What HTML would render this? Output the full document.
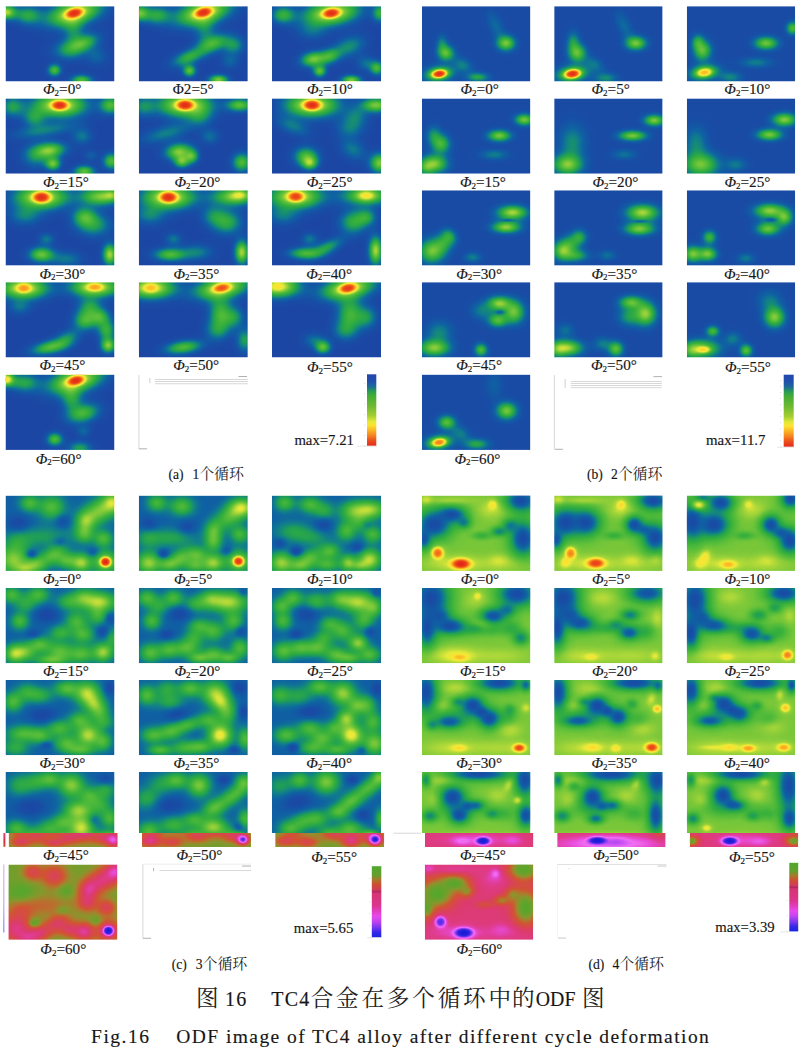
<!DOCTYPE html><html><head><meta charset="utf-8"><title>ODF</title><style>html,body{margin:0;padding:0;background:#fff}body{width:804px;height:1056px;overflow:hidden;position:relative}svg{display:block}text{font-family:"Liberation Serif",serif;fill:#161616;stroke:#161616;stroke-width:.14px}.i{font-style:italic}.cj{font-family:"Liberation Serif","Noto Serif CJK SC",serif;fill:#222;stroke:none}</style></head><body><svg width="804" height="1056" viewBox="0 0 804 1056"><defs><radialGradient id="gw"><stop offset="0.00" stop-color="#fff" stop-opacity="1.000"/><stop offset="0.10" stop-color="#fff" stop-opacity="0.955"/><stop offset="0.20" stop-color="#fff" stop-opacity="0.832"/><stop offset="0.30" stop-color="#fff" stop-opacity="0.661"/><stop offset="0.40" stop-color="#fff" stop-opacity="0.479"/><stop offset="0.50" stop-color="#fff" stop-opacity="0.317"/><stop offset="0.60" stop-color="#fff" stop-opacity="0.191"/><stop offset="0.70" stop-color="#fff" stop-opacity="0.105"/><stop offset="0.80" stop-color="#fff" stop-opacity="0.053"/><stop offset="0.90" stop-color="#fff" stop-opacity="0.024"/><stop offset="1.00" stop-color="#fff" stop-opacity="0.000"/></radialGradient><radialGradient id="gk"><stop offset="0.00" stop-color="#000" stop-opacity="1.000"/><stop offset="0.10" stop-color="#000" stop-opacity="0.955"/><stop offset="0.20" stop-color="#000" stop-opacity="0.832"/><stop offset="0.30" stop-color="#000" stop-opacity="0.661"/><stop offset="0.40" stop-color="#000" stop-opacity="0.479"/><stop offset="0.50" stop-color="#000" stop-opacity="0.317"/><stop offset="0.60" stop-color="#000" stop-opacity="0.191"/><stop offset="0.70" stop-color="#000" stop-opacity="0.105"/><stop offset="0.80" stop-color="#000" stop-opacity="0.053"/><stop offset="0.90" stop-color="#000" stop-opacity="0.024"/><stop offset="1.00" stop-color="#000" stop-opacity="0.000"/></radialGradient><radialGradient id="gk3"><stop offset="0.00" stop-color="#000" stop-opacity="1.000"/><stop offset="0.07" stop-color="#000" stop-opacity="0.998"/><stop offset="0.14" stop-color="#000" stop-opacity="0.987"/><stop offset="0.21" stop-color="#000" stop-opacity="0.956"/><stop offset="0.29" stop-color="#000" stop-opacity="0.898"/><stop offset="0.36" stop-color="#000" stop-opacity="0.811"/><stop offset="0.43" stop-color="#000" stop-opacity="0.696"/><stop offset="0.50" stop-color="#000" stop-opacity="0.563"/><stop offset="0.57" stop-color="#000" stop-opacity="0.424"/><stop offset="0.64" stop-color="#000" stop-opacity="0.295"/><stop offset="0.71" stop-color="#000" stop-opacity="0.187"/><stop offset="0.79" stop-color="#000" stop-opacity="0.107"/><stop offset="0.86" stop-color="#000" stop-opacity="0.055"/><stop offset="0.93" stop-color="#000" stop-opacity="0.025"/><stop offset="1.00" stop-color="#000" stop-opacity="0.000"/></radialGradient><radialGradient id="gs"><stop offset="0.00" stop-color="#fff" stop-opacity="1.000"/><stop offset="0.06" stop-color="#fff" stop-opacity="0.999"/><stop offset="0.12" stop-color="#fff" stop-opacity="0.991"/><stop offset="0.19" stop-color="#fff" stop-opacity="0.970"/><stop offset="0.25" stop-color="#fff" stop-opacity="0.931"/><stop offset="0.31" stop-color="#fff" stop-opacity="0.869"/><stop offset="0.38" stop-color="#fff" stop-opacity="0.785"/><stop offset="0.44" stop-color="#fff" stop-opacity="0.680"/><stop offset="0.50" stop-color="#fff" stop-opacity="0.563"/><stop offset="0.56" stop-color="#fff" stop-opacity="0.441"/><stop offset="0.62" stop-color="#fff" stop-opacity="0.325"/><stop offset="0.69" stop-color="#fff" stop-opacity="0.224"/><stop offset="0.75" stop-color="#fff" stop-opacity="0.144"/><stop offset="0.81" stop-color="#fff" stop-opacity="0.085"/><stop offset="0.88" stop-color="#fff" stop-opacity="0.046"/><stop offset="0.94" stop-color="#fff" stop-opacity="0.023"/><stop offset="1.00" stop-color="#fff" stop-opacity="0.000"/></radialGradient><filter id="jet" x="0" y="0" width="100%" height="100%" color-interpolation-filters="sRGB" filterUnits="objectBoundingBox"><feComponentTransfer><feFuncR type="table" tableValues="0.118 0.112 0.106 0.100 0.094 0.085 0.076 0.068 0.059 0.061 0.063 0.066 0.075 0.090 0.106 0.122 0.144 0.167 0.189 0.212 0.248 0.285 0.322 0.358 0.408 0.471 0.533 0.596 0.667 0.745 0.824 0.902 0.929 0.957 0.984 0.984 0.984 0.984 0.982 0.978 0.973 0.969 0.960 0.951 0.942 0.933 0.924 0.915 0.905 0.896 0.886"/><feFuncG type="table" tableValues="0.267 0.276 0.286 0.296 0.306 0.325 0.345 0.365 0.384 0.418 0.452 0.485 0.519 0.552 0.586 0.620 0.637 0.655 0.673 0.690 0.704 0.718 0.732 0.746 0.763 0.782 0.802 0.822 0.844 0.868 0.893 0.918 0.910 0.902 0.894 0.845 0.796 0.746 0.696 0.644 0.593 0.541 0.486 0.431 0.376 0.322 0.289 0.256 0.223 0.190 0.157"/><feFuncB type="table" tableValues="0.639 0.642 0.645 0.648 0.651 0.648 0.645 0.642 0.639 0.611 0.583 0.555 0.513 0.457 0.401 0.345 0.318 0.290 0.263 0.235 0.234 0.232 0.230 0.228 0.227 0.227 0.227 0.227 0.227 0.227 0.227 0.227 0.217 0.207 0.196 0.183 0.169 0.156 0.145 0.136 0.127 0.118 0.114 0.110 0.106 0.102 0.100 0.099 0.097 0.096 0.094"/></feComponentTransfer></filter><filter id="gl" x="0" y="0" width="100%" height="100%" color-interpolation-filters="sRGB" filterUnits="objectBoundingBox"><feComponentTransfer><feFuncR type="table" tableValues="0.310 0.322 0.333 0.345 0.357 0.369 0.400 0.431 0.463 0.494 0.525 0.577 0.629 0.680 0.722 0.753 0.784 0.816 0.825 0.834 0.843 0.849 0.854 0.858 0.863 0.867 0.872 0.876 0.883 0.892 0.901 0.910 0.920 0.931 0.941 0.896 0.852 0.807 0.744 0.663 0.583 0.502 0.431 0.361 0.290 0.220 0.198 0.176 0.154 0.132 0.110"/><feFuncG type="table" tableValues="0.659 0.656 0.654 0.652 0.649 0.647 0.637 0.627 0.616 0.606 0.596 0.558 0.520 0.482 0.444 0.406 0.368 0.329 0.316 0.303 0.289 0.276 0.262 0.249 0.235 0.235 0.235 0.235 0.244 0.262 0.280 0.298 0.345 0.392 0.439 0.403 0.368 0.332 0.300 0.273 0.246 0.220 0.204 0.188 0.173 0.157 0.147 0.138 0.129 0.119 0.110"/><feFuncB type="table" tableValues="0.173 0.173 0.173 0.173 0.173 0.173 0.173 0.173 0.173 0.173 0.173 0.175 0.177 0.179 0.183 0.187 0.192 0.196 0.225 0.254 0.283 0.316 0.352 0.388 0.424 0.464 0.504 0.545 0.605 0.686 0.766 0.847 0.884 0.920 0.957 0.957 0.957 0.957 0.955 0.950 0.946 0.941 0.929 0.918 0.906 0.894 0.882 0.869 0.856 0.844 0.831"/></feComponentTransfer></filter><filter id="jetc" x="0" y="0" width="100%" height="100%" color-interpolation-filters="sRGB" filterUnits="objectBoundingBox"><feComponentTransfer><feFuncR type="table" tableValues="0.118 0.112 0.106 0.100 0.094 0.085 0.076 0.068 0.059 0.061 0.063 0.066 0.075 0.090 0.106 0.122 0.135 0.149 0.162 0.176 0.189 0.203 0.219 0.241 0.263 0.285 0.300 0.314 0.329 0.344 0.358 0.373 0.395 0.420 0.445 0.471 0.512 0.554 0.596 0.641 0.693 0.745 0.797 0.873 0.926 0.960 0.984 0.984 0.965 0.927 0.886"/><feFuncG type="table" tableValues="0.267 0.276 0.286 0.296 0.306 0.325 0.345 0.365 0.384 0.418 0.452 0.485 0.519 0.552 0.586 0.620 0.630 0.641 0.651 0.662 0.673 0.683 0.693 0.701 0.710 0.718 0.724 0.729 0.735 0.740 0.746 0.752 0.759 0.767 0.775 0.782 0.795 0.808 0.822 0.835 0.852 0.868 0.885 0.908 0.911 0.901 0.876 0.739 0.518 0.298 0.157"/><feFuncB type="table" tableValues="0.639 0.642 0.645 0.648 0.651 0.648 0.645 0.642 0.639 0.611 0.583 0.555 0.513 0.457 0.401 0.345 0.329 0.312 0.296 0.279 0.263 0.246 0.235 0.234 0.233 0.232 0.231 0.230 0.230 0.229 0.228 0.228 0.227 0.227 0.227 0.227 0.227 0.227 0.227 0.227 0.227 0.227 0.227 0.227 0.218 0.205 0.191 0.154 0.116 0.101 0.094"/></feComponentTransfer></filter><filter id="glc" x="0" y="0" width="100%" height="100%" color-interpolation-filters="sRGB" filterUnits="objectBoundingBox"><feComponentTransfer><feFuncR type="table" tableValues="0.310 0.322 0.333 0.345 0.357 0.369 0.400 0.431 0.463 0.494 0.525 0.577 0.629 0.680 0.722 0.753 0.772 0.791 0.809 0.819 0.825 0.830 0.835 0.841 0.846 0.849 0.851 0.853 0.855 0.856 0.858 0.860 0.862 0.864 0.865 0.867 0.870 0.873 0.876 0.880 0.886 0.892 0.898 0.906 0.919 0.932 0.924 0.800 0.472 0.204 0.110"/><feFuncG type="table" tableValues="0.659 0.656 0.654 0.652 0.649 0.647 0.637 0.627 0.616 0.606 0.596 0.558 0.520 0.482 0.444 0.406 0.383 0.360 0.337 0.324 0.316 0.308 0.300 0.292 0.284 0.276 0.270 0.265 0.259 0.254 0.249 0.243 0.238 0.235 0.235 0.235 0.235 0.235 0.235 0.238 0.250 0.262 0.274 0.291 0.339 0.398 0.426 0.327 0.213 0.150 0.110"/><feFuncB type="table" tableValues="0.173 0.173 0.173 0.173 0.173 0.173 0.173 0.173 0.173 0.173 0.173 0.175 0.177 0.179 0.183 0.187 0.190 0.192 0.195 0.208 0.225 0.243 0.260 0.278 0.295 0.316 0.330 0.345 0.359 0.373 0.388 0.402 0.416 0.432 0.448 0.464 0.491 0.518 0.545 0.578 0.632 0.686 0.739 0.817 0.879 0.925 0.957 0.957 0.936 0.885 0.831"/></feComponentTransfer></filter></defs>
<svg x="5.5" y="6.2" width="109" height="75.3"><g filter="url(#jet)"><rect width="109" height="75.3" fill="#050505"/><ellipse cx="68.8" cy="7" rx="57.5" ry="25.3" fill="url(#gw)" opacity="0.64" transform="rotate(-14 68.8 7)"/><ellipse cx="68.8" cy="7" rx="13.8" ry="7.5" fill="url(#gs)" opacity="0.95" transform="rotate(-14 68.8 7)"/><ellipse cx="1" cy="6" rx="19.8" ry="14.8" fill="url(#gw)" opacity="0.55"/><ellipse cx="22" cy="9" rx="29.6" ry="19.8" fill="url(#gw)" opacity="0.33"/><ellipse cx="77.5" cy="37" rx="34.8" ry="17.4" fill="url(#gw)" opacity="0.40" transform="rotate(-20 77.5 37)"/><ellipse cx="62" cy="44" rx="34" ry="21.2" fill="url(#gw)" opacity="0.22"/><ellipse cx="68" cy="23" rx="21.2" ry="38.2" fill="url(#gw)" opacity="0.22"/><ellipse cx="49" cy="64" rx="14.1" ry="12.7" fill="url(#gw)" opacity="0.42"/><ellipse cx="76" cy="74" rx="22.6" ry="11.3" fill="url(#gw)" opacity="0.42"/><ellipse cx="91" cy="50" rx="24" ry="20" fill="url(#gw)" opacity="0.15"/></g></svg>
<svg x="138.8" y="6.2" width="109" height="75.3"><g filter="url(#jet)"><rect width="109" height="75.3" fill="#050505"/><ellipse cx="64.7" cy="6.3" rx="57.5" ry="25.3" fill="url(#gw)" opacity="0.64" transform="rotate(-14 64.7 6.3)"/><ellipse cx="64.7" cy="6.3" rx="13.8" ry="7.5" fill="url(#gs)" opacity="0.95" transform="rotate(-14 64.7 6.3)"/><ellipse cx="1" cy="7" rx="19" ry="16.3" fill="url(#gw)" opacity="0.45"/><ellipse cx="18" cy="9" rx="29.6" ry="19.8" fill="url(#gw)" opacity="0.33"/><ellipse cx="74.7" cy="37" rx="32.9" ry="17.9" fill="url(#gw)" opacity="0.38" transform="rotate(-20 74.7 37)"/><ellipse cx="94.7" cy="39" rx="23.6" ry="19.7" fill="url(#gw)" opacity="0.27"/><ellipse cx="50" cy="51" rx="37.1" ry="15.5" fill="url(#gw)" opacity="0.36" transform="rotate(-22 50 51)"/><ellipse cx="66" cy="22" rx="21.2" ry="38.2" fill="url(#gw)" opacity="0.20"/><ellipse cx="50.7" cy="64.7" rx="13.6" ry="12.2" fill="url(#gw)" opacity="0.45"/><ellipse cx="79.7" cy="73.5" rx="20.6" ry="10.3" fill="url(#gw)" opacity="0.50"/><ellipse cx="91" cy="55" rx="20" ry="16" fill="url(#gw)" opacity="0.15"/></g></svg>
<svg x="272" y="6.2" width="109" height="75.3"><g filter="url(#jet)"><rect width="109" height="75.3" fill="#050505"/><ellipse cx="59.3" cy="7" rx="57.5" ry="25.3" fill="url(#gw)" opacity="0.64" transform="rotate(-8 59.3 7)"/><ellipse cx="59.3" cy="7" rx="13.8" ry="7.5" fill="url(#gs)" opacity="0.95" transform="rotate(-8 59.3 7)"/><ellipse cx="11" cy="8.7" rx="24.8" ry="18.6" fill="url(#gw)" opacity="0.36"/><ellipse cx="108" cy="7" rx="15.5" ry="18.6" fill="url(#gw)" opacity="0.36"/><ellipse cx="41" cy="53" rx="26.3" ry="15.8" fill="url(#gw)" opacity="0.48" transform="rotate(-10 41 53)"/><ellipse cx="57.7" cy="50" rx="24.8" ry="15.5" fill="url(#gw)" opacity="0.36" transform="rotate(-20 57.7 50)"/><ellipse cx="77.7" cy="40" rx="34" ry="21.2" fill="url(#gw)" opacity="0.25" transform="rotate(-20 77.7 40)"/><ellipse cx="47.7" cy="65" rx="13.6" ry="12.2" fill="url(#gw)" opacity="0.45"/><ellipse cx="79.3" cy="74" rx="20.6" ry="10.3" fill="url(#gw)" opacity="0.50"/><ellipse cx="105" cy="62" rx="14.5" ry="14.5" fill="url(#gw)" opacity="0.40"/><ellipse cx="94" cy="57" rx="20" ry="16" fill="url(#gw)" opacity="0.18"/><ellipse cx="40" cy="25" rx="32" ry="20" fill="url(#gw)" opacity="0.15"/></g></svg>
<svg x="5.5" y="98.4" width="109" height="75.3"><g filter="url(#jet)"><rect width="109" height="75.3" fill="#050505"/><ellipse cx="54.2" cy="6.9" rx="55.2" ry="25.3" fill="url(#gw)" opacity="0.64"/><ellipse cx="54.2" cy="6.9" rx="13.1" ry="7.5" fill="url(#gs)" opacity="0.95"/><ellipse cx="105" cy="6.9" rx="22.6" ry="18.3" fill="url(#gw)" opacity="0.42"/><ellipse cx="7" cy="8.4" rx="24.9" ry="21.3" fill="url(#gw)" opacity="0.30"/><ellipse cx="28.8" cy="19.5" rx="23.6" ry="19.7" fill="url(#gw)" opacity="0.27"/><ellipse cx="39" cy="32" rx="68" ry="14.9" fill="url(#gw)" opacity="0.22" transform="rotate(-8 39 32)"/><ellipse cx="76.6" cy="38" rx="21.2" ry="17" fill="url(#gw)" opacity="0.20"/><ellipse cx="44" cy="52" rx="33.6" ry="16.8" fill="url(#gw)" opacity="0.50" transform="rotate(-6 44 52)"/><ellipse cx="47.5" cy="65.5" rx="16" ry="13.3" fill="url(#gw)" opacity="0.47"/><ellipse cx="30" cy="58" rx="29.8" ry="25.5" fill="url(#gw)" opacity="0.22"/><ellipse cx="105.7" cy="62.8" rx="16.9" ry="16.9" fill="url(#gw)" opacity="0.42"/><ellipse cx="78.8" cy="73" rx="21.7" ry="12.2" fill="url(#gw)" opacity="0.45"/><ellipse cx="85.5" cy="57" rx="16" ry="12" fill="url(#gw)" opacity="0.13"/></g></svg>
<svg x="138.8" y="98.4" width="109" height="75.3"><g filter="url(#jet)"><rect width="109" height="75.3" fill="#050505"/><ellipse cx="46.3" cy="6.7" rx="55.2" ry="25.3" fill="url(#gw)" opacity="0.64"/><ellipse cx="46.3" cy="6.7" rx="13.8" ry="8.1" fill="url(#gs)" opacity="0.95"/><ellipse cx="101" cy="6.7" rx="27.2" ry="13.6" fill="url(#gw)" opacity="0.45"/><ellipse cx="4.7" cy="8" rx="25.5" ry="21.2" fill="url(#gw)" opacity="0.24"/><ellipse cx="61" cy="18" rx="25.5" ry="21.2" fill="url(#gw)" opacity="0.20"/><ellipse cx="28" cy="34.7" rx="55.2" ry="17" fill="url(#gw)" opacity="0.22" transform="rotate(-15 28 34.7)"/><ellipse cx="71" cy="38" rx="20" ry="16" fill="url(#gw)" opacity="0.18"/><ellipse cx="39.7" cy="53" rx="28.4" ry="16.8" fill="url(#gw)" opacity="0.50" transform="rotate(-8 39.7 53)"/><ellipse cx="43" cy="63" rx="16.3" ry="13.6" fill="url(#gw)" opacity="0.45"/><ellipse cx="53" cy="58" rx="14.5" ry="14.5" fill="url(#gw)" opacity="0.40"/><ellipse cx="103" cy="64" rx="19.7" ry="19.7" fill="url(#gw)" opacity="0.42"/></g></svg>
<svg x="272" y="98.4" width="109" height="75.3"><g filter="url(#jet)"><rect width="109" height="75.3" fill="#050505"/><ellipse cx="40" cy="6.7" rx="55.2" ry="25.3" fill="url(#gw)" opacity="0.64"/><ellipse cx="40" cy="6.7" rx="13.8" ry="8.1" fill="url(#gs)" opacity="0.95"/><ellipse cx="104" cy="6.7" rx="31" ry="15.5" fill="url(#gw)" opacity="0.50"/><ellipse cx="84" cy="18" rx="25.5" ry="21.2" fill="url(#gw)" opacity="0.20"/><ellipse cx="77.7" cy="29.7" rx="29.8" ry="21.2" fill="url(#gw)" opacity="0.20"/><ellipse cx="21" cy="28" rx="38.2" ry="17" fill="url(#gw)" opacity="0.20" transform="rotate(20 21 28)"/><ellipse cx="34" cy="58" rx="26.1" ry="20.3" fill="url(#gw)" opacity="0.40"/><ellipse cx="37.7" cy="64.7" rx="16.3" ry="13.6" fill="url(#gw)" opacity="0.45"/><ellipse cx="107.7" cy="64.7" rx="20.6" ry="20.6" fill="url(#gw)" opacity="0.50"/><ellipse cx="81" cy="51" rx="29.8" ry="21.2" fill="url(#gw)" opacity="0.20" transform="rotate(30 81 51)"/></g></svg>
<svg x="5.5" y="190.3" width="109" height="75.3"><g filter="url(#jet)"><rect width="109" height="75.3" fill="#050505"/><ellipse cx="36" cy="7" rx="55.2" ry="25.3" fill="url(#gw)" opacity="0.64"/><ellipse cx="36" cy="7" rx="13.8" ry="8.8" fill="url(#gs)" opacity="0.95"/><ellipse cx="94.3" cy="6.3" rx="41.3" ry="19.4" fill="url(#gw)" opacity="0.50"/><ellipse cx="106" cy="4.7" rx="16.5" ry="11.5" fill="url(#gw)" opacity="0.33"/><ellipse cx="19.3" cy="25.3" rx="34" ry="21.2" fill="url(#gw)" opacity="0.22"/><ellipse cx="88.5" cy="34.5" rx="35.6" ry="24.9" fill="url(#gw)" opacity="0.30"/><ellipse cx="80" cy="26" rx="21.2" ry="17" fill="url(#gw)" opacity="0.20"/><ellipse cx="77.7" cy="27" rx="25.5" ry="21.2" fill="url(#gw)" opacity="0.22"/><ellipse cx="41" cy="48.7" rx="17" ry="12.8" fill="url(#gw)" opacity="0.20"/><ellipse cx="36" cy="64.3" rx="26.6" ry="16" fill="url(#gw)" opacity="0.47"/><ellipse cx="104.3" cy="64.3" rx="14.8" ry="22.3" fill="url(#gw)" opacity="0.55"/><ellipse cx="61" cy="68.7" rx="34" ry="17" fill="url(#gw)" opacity="0.20"/></g></svg>
<svg x="138.8" y="190.3" width="109" height="75.3"><g filter="url(#jet)"><rect width="109" height="75.3" fill="#050505"/><ellipse cx="29.7" cy="7" rx="55.2" ry="25.3" fill="url(#gw)" opacity="0.64"/><ellipse cx="29.7" cy="7" rx="13.8" ry="8.8" fill="url(#gs)" opacity="0.94"/><ellipse cx="94.7" cy="6.3" rx="46.5" ry="19.4" fill="url(#gw)" opacity="0.50"/><ellipse cx="101.3" cy="4.3" rx="18.6" ry="10.8" fill="url(#gw)" opacity="0.36"/><ellipse cx="11" cy="25" rx="34" ry="21.2" fill="url(#gw)" opacity="0.22"/><ellipse cx="88" cy="32" rx="32.2" ry="25.8" fill="url(#gw)" opacity="0.34"/><ellipse cx="74.7" cy="25.3" rx="25.5" ry="21.2" fill="url(#gw)" opacity="0.22"/><ellipse cx="34.7" cy="48.7" rx="17" ry="12.8" fill="url(#gw)" opacity="0.20"/><ellipse cx="31.3" cy="64.3" rx="33.8" ry="14.1" fill="url(#gw)" opacity="0.42"/><ellipse cx="103" cy="62" rx="14.8" ry="24.7" fill="url(#gw)" opacity="0.55"/><ellipse cx="58" cy="62" rx="34" ry="17" fill="url(#gw)" opacity="0.22"/></g></svg>
<svg x="272" y="190.3" width="109" height="75.3"><g filter="url(#jet)"><rect width="109" height="75.3" fill="#050505"/><ellipse cx="23.7" cy="6.3" rx="55.2" ry="25.3" fill="url(#gw)" opacity="0.64"/><ellipse cx="23.7" cy="6.3" rx="12.5" ry="8.1" fill="url(#gs)" opacity="0.81"/><ellipse cx="94.3" cy="5.3" rx="51.6" ry="20.6" fill="url(#gw)" opacity="0.50"/><ellipse cx="94.3" cy="5.3" rx="17.9" ry="10.5" fill="url(#gw)" opacity="0.38"/><ellipse cx="11" cy="25" rx="34" ry="21.2" fill="url(#gw)" opacity="0.20"/><ellipse cx="81" cy="32" rx="29" ry="25.8" fill="url(#gw)" opacity="0.34"/><ellipse cx="94.3" cy="27" rx="21.3" ry="17.8" fill="url(#gw)" opacity="0.30"/><ellipse cx="37.7" cy="48.7" rx="17" ry="12.8" fill="url(#gw)" opacity="0.20"/><ellipse cx="33" cy="63" rx="34.8" ry="13" fill="url(#gw)" opacity="0.40"/><ellipse cx="55" cy="57" rx="35.6" ry="14.2" fill="url(#gw)" opacity="0.30" transform="rotate(-25 55 57)"/><ellipse cx="103.7" cy="60.3" rx="14.8" ry="29.7" fill="url(#gw)" opacity="0.55"/></g></svg>
<svg x="5.5" y="282.2" width="109" height="75.3"><g filter="url(#jet)"><rect width="109" height="75.3" fill="#050505"/><ellipse cx="18.3" cy="6" rx="50.6" ry="23" fill="url(#gw)" opacity="0.64"/><ellipse cx="18.3" cy="6" rx="11.2" ry="7.5" fill="url(#gs)" opacity="0.44"/><ellipse cx="89.3" cy="5" rx="50.6" ry="20.7" fill="url(#gw)" opacity="0.64"/><ellipse cx="89.3" cy="5" rx="12.5" ry="6.2" fill="url(#gs)" opacity="0.39"/><ellipse cx="84.3" cy="25" rx="24.9" ry="21.3" fill="url(#gw)" opacity="0.30"/><ellipse cx="79.3" cy="38.3" rx="23.9" ry="20.9" fill="url(#gw)" opacity="0.38"/><ellipse cx="94.3" cy="35" rx="21.7" ry="18.6" fill="url(#gw)" opacity="0.36"/><ellipse cx="14.3" cy="25" rx="24" ry="16" fill="url(#gw)" opacity="0.18"/><ellipse cx="44.3" cy="65" rx="39.5" ry="14.1" fill="url(#gw)" opacity="0.42" transform="rotate(-12 44.3 65)"/><ellipse cx="61" cy="56.7" rx="29.8" ry="17" fill="url(#gw)" opacity="0.25" transform="rotate(-30 61 56.7)"/><ellipse cx="102.7" cy="63.3" rx="15.5" ry="15.5" fill="url(#gw)" opacity="0.50"/><ellipse cx="101" cy="48.3" rx="18.6" ry="21.7" fill="url(#gw)" opacity="0.36"/></g></svg>
<svg x="138.8" y="282.2" width="109" height="75.3"><g filter="url(#jet)"><rect width="109" height="75.3" fill="#050505"/><ellipse cx="12" cy="5.7" rx="50.6" ry="23" fill="url(#gw)" opacity="0.64"/><ellipse cx="12" cy="5.7" rx="11.2" ry="7.5" fill="url(#gs)" opacity="0.28"/><ellipse cx="83" cy="5.7" rx="55.2" ry="23" fill="url(#gw)" opacity="0.64" transform="rotate(-10 83 5.7)"/><ellipse cx="83" cy="5.7" rx="13.8" ry="6.9" fill="url(#gs)" opacity="0.72" transform="rotate(-10 83 5.7)"/><ellipse cx="81.3" cy="31.7" rx="23.9" ry="35.9" fill="url(#gw)" opacity="0.38"/><ellipse cx="94.7" cy="35" rx="22.8" ry="22.8" fill="url(#gw)" opacity="0.28"/><ellipse cx="78" cy="48.3" rx="25.5" ry="21.2" fill="url(#gw)" opacity="0.22"/><ellipse cx="44.7" cy="65" rx="39.5" ry="14.1" fill="url(#gw)" opacity="0.42" transform="rotate(-8 44.7 65)"/><ellipse cx="106" cy="58" rx="17.8" ry="24.9" fill="url(#gw)" opacity="0.30"/></g></svg>
<svg x="272" y="282.2" width="109" height="75.3"><g filter="url(#jet)"><rect width="109" height="75.3" fill="#050505"/><ellipse cx="6" cy="4.3" rx="46" ry="23" fill="url(#gw)" opacity="0.64"/><ellipse cx="6" cy="4.3" rx="10" ry="6.9" fill="url(#gs)" opacity="0.11"/><ellipse cx="76" cy="6" rx="55.2" ry="23" fill="url(#gw)" opacity="0.64" transform="rotate(-10 76 6)"/><ellipse cx="76" cy="6" rx="13.8" ry="7.5" fill="url(#gs)" opacity="0.86" transform="rotate(-10 76 6)"/><ellipse cx="77.7" cy="31.7" rx="26.9" ry="35.9" fill="url(#gw)" opacity="0.38"/><ellipse cx="94.3" cy="35" rx="23.6" ry="23.6" fill="url(#gw)" opacity="0.27"/><ellipse cx="72.7" cy="48.3" rx="25.5" ry="21.2" fill="url(#gw)" opacity="0.22"/><ellipse cx="51" cy="65" rx="16.3" ry="13.6" fill="url(#gw)" opacity="0.45"/><ellipse cx="42" cy="58" rx="24" ry="16" fill="url(#gw)" opacity="0.18"/></g></svg>
<svg x="5.5" y="374.6" width="109" height="75.3"><g filter="url(#jet)"><rect width="109" height="75.3" fill="#050505"/><ellipse cx="70.3" cy="6" rx="57.5" ry="25.3" fill="url(#gw)" opacity="0.64" transform="rotate(-14 70.3 6)"/><ellipse cx="70.3" cy="6" rx="13.8" ry="7.5" fill="url(#gs)" opacity="0.95" transform="rotate(-14 70.3 6)"/><ellipse cx="1" cy="4.7" rx="16.1" ry="13.8" fill="url(#gw)" opacity="0.66"/><ellipse cx="18" cy="8" rx="32.9" ry="19.8" fill="url(#gw)" opacity="0.33"/><ellipse cx="66" cy="23.7" rx="21.3" ry="28.5" fill="url(#gw)" opacity="0.30"/><ellipse cx="77.7" cy="38.7" rx="34.8" ry="20.3" fill="url(#gw)" opacity="0.40" transform="rotate(-15 77.7 38.7)"/><ellipse cx="49.3" cy="64.7" rx="16.9" ry="14.1" fill="url(#gw)" opacity="0.42"/><ellipse cx="74.3" cy="73.5" rx="24.9" ry="14.2" fill="url(#gw)" opacity="0.30"/><ellipse cx="78" cy="57" rx="16" ry="12" fill="url(#gw)" opacity="0.15"/></g></svg>
<svg x="422" y="6.2" width="108.4" height="75.3"><g filter="url(#jet)"><rect width="108.4" height="75.3" fill="#0f0f0f"/><ellipse cx="17.3" cy="67.7" rx="32.3" ry="17.1" fill="url(#gw)" opacity="0.36" transform="rotate(-8 17.3 67.7)"/><ellipse cx="16.8" cy="67.4" rx="19.4" ry="10" fill="url(#gs)" opacity="0.22" transform="rotate(-8 16.8 67.4)"/><ellipse cx="17.3" cy="67.7" rx="11.9" ry="6.5" fill="url(#gs)" opacity="0.95" transform="rotate(-8 17.3 67.7)"/><ellipse cx="24" cy="47" rx="16.9" ry="15.6" fill="url(#gw)" opacity="0.42"/><ellipse cx="20" cy="38" rx="11.7" ry="19.5" fill="url(#gw)" opacity="0.20"/><ellipse cx="84" cy="37" rx="19" ry="15.4" fill="url(#gw)" opacity="0.47"/><ellipse cx="74" cy="20" rx="14.7" ry="33.1" fill="url(#gw)" opacity="0.13" transform="rotate(-25 74 20)"/><ellipse cx="55.7" cy="71" rx="22.9" ry="9.8" fill="url(#gw)" opacity="0.30"/><ellipse cx="40.7" cy="58.7" rx="22.1" ry="14.7" fill="url(#gw)" opacity="0.18" transform="rotate(30 40.7 58.7)"/></g></svg>
<svg x="554.2" y="6.2" width="108.4" height="75.3"><g filter="url(#jet)"><rect width="108.4" height="75.3" fill="#0f0f0f"/><ellipse cx="18.3" cy="67.7" rx="34.9" ry="18.5" fill="url(#gw)" opacity="0.36" transform="rotate(-8 18.3 67.7)"/><ellipse cx="17.8" cy="67.4" rx="20.9" ry="10.8" fill="url(#gs)" opacity="0.22" transform="rotate(-8 17.8 67.4)"/><ellipse cx="18.3" cy="67.7" rx="12.8" ry="7" fill="url(#gs)" opacity="0.95" transform="rotate(-8 18.3 67.7)"/><ellipse cx="23.3" cy="47" rx="18.2" ry="18.2" fill="url(#gw)" opacity="0.42"/><ellipse cx="19" cy="36.5" rx="13.7" ry="23.5" fill="url(#gw)" opacity="0.25"/><ellipse cx="81.7" cy="37" rx="21.4" ry="14.2" fill="url(#gw)" opacity="0.47"/><ellipse cx="70" cy="20" rx="14.7" ry="33.1" fill="url(#gw)" opacity="0.13" transform="rotate(-25 70 20)"/><ellipse cx="51.7" cy="72" rx="23.5" ry="11.7" fill="url(#gw)" opacity="0.22"/><ellipse cx="40" cy="58" rx="22.1" ry="14.7" fill="url(#gw)" opacity="0.15" transform="rotate(30 40 58)"/></g></svg>
<svg x="686.8" y="6.2" width="108.4" height="75.3"><g filter="url(#jet)"><rect width="108.4" height="75.3" fill="#0f0f0f"/><ellipse cx="17.7" cy="66.3" rx="32.3" ry="17.1" fill="url(#gw)" opacity="0.36" transform="rotate(-8 17.7 66.3)"/><ellipse cx="17.2" cy="66" rx="19.4" ry="10" fill="url(#gs)" opacity="0.22" transform="rotate(-8 17.2 66)"/><ellipse cx="17.7" cy="66.3" rx="11.9" ry="6.5" fill="url(#gs)" opacity="0.46" transform="rotate(-8 17.7 66.3)"/><ellipse cx="16" cy="44.7" rx="18.2" ry="20.7" fill="url(#gw)" opacity="0.42" transform="rotate(15 16 44.7)"/><ellipse cx="11" cy="36" rx="13.1" ry="16.4" fill="url(#gw)" opacity="0.30"/><ellipse cx="79.3" cy="37" rx="24.5" ry="13.5" fill="url(#gw)" opacity="0.46"/><ellipse cx="106" cy="22" rx="13.3" ry="13.3" fill="url(#gw)" opacity="0.40"/><ellipse cx="69.3" cy="56.3" rx="33.1" ry="11" fill="url(#gw)" opacity="0.18"/><ellipse cx="44" cy="71" rx="23.5" ry="11.7" fill="url(#gw)" opacity="0.20"/></g></svg>
<svg x="422" y="98.4" width="108.4" height="75.3"><g filter="url(#jet)"><rect width="108.4" height="75.3" fill="#0f0f0f"/><ellipse cx="13" cy="65.3" rx="26.1" ry="19" fill="url(#gw)" opacity="0.47"/><ellipse cx="4" cy="69" rx="16.4" ry="16.4" fill="url(#gw)" opacity="0.30"/><ellipse cx="19" cy="45.7" rx="19.3" ry="19.3" fill="url(#gw)" opacity="0.38" transform="rotate(15 19 45.7)"/><ellipse cx="11.7" cy="36.7" rx="15.6" ry="19.5" fill="url(#gw)" opacity="0.22"/><ellipse cx="77.3" cy="37.3" rx="23.7" ry="11.9" fill="url(#gw)" opacity="0.47"/><ellipse cx="102.3" cy="21.3" rx="19" ry="11.9" fill="url(#gw)" opacity="0.47"/><ellipse cx="72.3" cy="56.3" rx="29.4" ry="11" fill="url(#gw)" opacity="0.18"/></g></svg>
<svg x="554.2" y="98.4" width="108.4" height="75.3"><g filter="url(#jet)"><rect width="108.4" height="75.3" fill="#0f0f0f"/><ellipse cx="13.3" cy="66.3" rx="30.3" ry="21" fill="url(#gw)" opacity="0.48"/><ellipse cx="18.3" cy="44.7" rx="27.4" ry="39.1" fill="url(#gw)" opacity="0.22"/><ellipse cx="78.3" cy="37.3" rx="28.5" ry="10.7" fill="url(#gw)" opacity="0.47"/><ellipse cx="100" cy="22" rx="21" ry="11.7" fill="url(#gw)" opacity="0.48"/><ellipse cx="70" cy="56" rx="25.8" ry="11" fill="url(#gw)" opacity="0.15"/></g></svg>
<svg x="686.8" y="98.4" width="108.4" height="75.3"><g filter="url(#jet)"><rect width="108.4" height="75.3" fill="#0f0f0f"/><ellipse cx="14.3" cy="66.3" rx="36.7" ry="24.5" fill="url(#gw)" opacity="0.46"/><ellipse cx="9.3" cy="44.7" rx="23.5" ry="35.2" fill="url(#gw)" opacity="0.20"/><ellipse cx="82.7" cy="36.3" rx="26.1" ry="11.9" fill="url(#gw)" opacity="0.47"/><ellipse cx="97.7" cy="21.3" rx="25.2" ry="13.8" fill="url(#gw)" opacity="0.49"/><ellipse cx="49.3" cy="66.3" rx="22.1" ry="14.7" fill="url(#gw)" opacity="0.17"/></g></svg>
<svg x="422" y="190.3" width="108.4" height="75.3"><g filter="url(#jet)"><rect width="108.4" height="75.3" fill="#0f0f0f"/><ellipse cx="10" cy="61" rx="26.9" ry="24.5" fill="url(#gw)" opacity="0.46"/><ellipse cx="27.3" cy="46" rx="14.5" ry="18.1" fill="url(#gw)" opacity="0.27" transform="rotate(-40 27.3 46)"/><ellipse cx="21" cy="53" rx="19.5" ry="19.5" fill="url(#gw)" opacity="0.25"/><ellipse cx="88" cy="28" rx="34" ry="23.8" fill="url(#gw)" opacity="0.12"/><ellipse cx="90.7" cy="22" rx="29.6" ry="13.7" fill="url(#gw)" opacity="0.49"/><ellipse cx="84" cy="37" rx="28" ry="11.7" fill="url(#gw)" opacity="0.48"/><ellipse cx="86" cy="30" rx="16" ry="3.2" fill="url(#gk)" opacity="0.50"/><ellipse cx="50.7" cy="67" rx="18.4" ry="11" fill="url(#gw)" opacity="0.18"/></g></svg>
<svg x="554.2" y="190.3" width="108.4" height="75.3"><g filter="url(#jet)"><rect width="108.4" height="75.3" fill="#0f0f0f"/><ellipse cx="8.3" cy="60.3" rx="20" ry="20" fill="url(#gw)" opacity="0.45"/><ellipse cx="21.7" cy="65.3" rx="26.2" ry="13.1" fill="url(#gw)" opacity="0.30"/><ellipse cx="25" cy="47" rx="16.4" ry="16.4" fill="url(#gw)" opacity="0.30"/><ellipse cx="16" cy="54" rx="19.5" ry="19.5" fill="url(#gw)" opacity="0.25"/><ellipse cx="88" cy="29" rx="35.7" ry="25.5" fill="url(#gw)" opacity="0.12"/><ellipse cx="88.3" cy="22" rx="31.9" ry="15.9" fill="url(#gw)" opacity="0.49"/><ellipse cx="85" cy="38.7" rx="30" ry="12.5" fill="url(#gw)" opacity="0.45"/><ellipse cx="86" cy="31" rx="16" ry="3.2" fill="url(#gk)" opacity="0.50"/><ellipse cx="53" cy="65" rx="18.4" ry="11" fill="url(#gw)" opacity="0.15"/></g></svg>
<svg x="686.8" y="190.3" width="108.4" height="75.3"><g filter="url(#jet)"><rect width="108.4" height="75.3" fill="#0f0f0f"/><ellipse cx="6" cy="63.7" rx="19" ry="16.6" fill="url(#gw)" opacity="0.47"/><ellipse cx="21" cy="63.7" rx="19" ry="14.2" fill="url(#gw)" opacity="0.47"/><ellipse cx="22.7" cy="47" rx="14.2" ry="14.2" fill="url(#gw)" opacity="0.36"/><ellipse cx="86" cy="29" rx="35.7" ry="25.5" fill="url(#gw)" opacity="0.12"/><ellipse cx="82.7" cy="20.3" rx="30.9" ry="14.2" fill="url(#gw)" opacity="0.47"/><ellipse cx="97.7" cy="27" rx="16" ry="16" fill="url(#gw)" opacity="0.40"/><ellipse cx="81" cy="38.7" rx="23.3" ry="13" fill="url(#gw)" opacity="0.42"/><ellipse cx="84" cy="29.5" rx="12" ry="4.4" fill="url(#gk)" opacity="0.55"/><ellipse cx="59" cy="68" rx="18.4" ry="11" fill="url(#gw)" opacity="0.17"/></g></svg>
<svg x="422" y="282.2" width="108.4" height="75.3"><g filter="url(#jet)"><rect width="108.4" height="75.3" fill="#0f0f0f"/><ellipse cx="12.3" cy="65.7" rx="31.9" ry="17.1" fill="url(#gw)" opacity="0.49"/><ellipse cx="17.3" cy="50" rx="27.4" ry="23.5" fill="url(#gw)" opacity="0.20"/><ellipse cx="59" cy="67.7" rx="13.3" ry="13.3" fill="url(#gw)" opacity="0.40"/><ellipse cx="80" cy="29" rx="37.4" ry="25.5" fill="url(#gw)" opacity="0.12"/><ellipse cx="77.3" cy="21" rx="23.7" ry="14.2" fill="url(#gw)" opacity="0.47"/><ellipse cx="92.3" cy="30" rx="20.7" ry="23.3" fill="url(#gw)" opacity="0.42"/><ellipse cx="75.7" cy="38.3" rx="19.3" ry="13.8" fill="url(#gw)" opacity="0.38"/><ellipse cx="59" cy="28.3" rx="22.1" ry="18.4" fill="url(#gw)" opacity="0.16"/><ellipse cx="78" cy="30" rx="10" ry="5" fill="url(#gk)" opacity="0.55"/></g></svg>
<svg x="554.2" y="282.2" width="108.4" height="75.3"><g filter="url(#jet)"><rect width="108.4" height="75.3" fill="#0f0f0f"/><ellipse cx="13.3" cy="65.7" rx="30.7" ry="16.5" fill="url(#gw)" opacity="0.52"/><ellipse cx="4" cy="67" rx="16.4" ry="16.4" fill="url(#gw)" opacity="0.30"/><ellipse cx="61.7" cy="66.7" rx="15.6" ry="15.6" fill="url(#gw)" opacity="0.42"/><ellipse cx="48.3" cy="61.7" rx="18.4" ry="14.7" fill="url(#gw)" opacity="0.18"/><ellipse cx="82" cy="29" rx="34" ry="25.5" fill="url(#gw)" opacity="0.12"/><ellipse cx="76.7" cy="20" rx="24" ry="13.3" fill="url(#gw)" opacity="0.40"/><ellipse cx="91.7" cy="31.7" rx="21.4" ry="23.7" fill="url(#gw)" opacity="0.47"/><ellipse cx="75" cy="35" rx="23.5" ry="19.5" fill="url(#gw)" opacity="0.20"/><ellipse cx="11" cy="48" rx="18.4" ry="14.7" fill="url(#gw)" opacity="0.15"/></g></svg>
<svg x="686.8" y="282.2" width="108.4" height="75.3"><g filter="url(#jet)"><rect width="108.4" height="75.3" fill="#0f0f0f"/><ellipse cx="16" cy="66.5" rx="35.6" ry="19" fill="url(#gw)" opacity="0.47"/><ellipse cx="17" cy="67.5" rx="11.2" ry="5.6" fill="url(#gs)" opacity="0.38"/><ellipse cx="5" cy="68" rx="19.6" ry="16.4" fill="url(#gw)" opacity="0.30"/><ellipse cx="26" cy="49" rx="13.8" ry="11" fill="url(#gw)" opacity="0.38"/><ellipse cx="59.3" cy="68.3" rx="13" ry="13" fill="url(#gw)" opacity="0.42"/><ellipse cx="46" cy="56.7" rx="18.4" ry="14.7" fill="url(#gw)" opacity="0.18"/><ellipse cx="87.7" cy="35" rx="21.6" ry="21.6" fill="url(#gw)" opacity="0.49"/><ellipse cx="82.7" cy="18.3" rx="25.8" ry="22.1" fill="url(#gw)" opacity="0.17"/></g></svg>
<svg x="422" y="374.6" width="108.4" height="75.3"><g filter="url(#jet)"><rect width="108.4" height="75.3" fill="#0f0f0f"/><ellipse cx="17.2" cy="67.8" rx="30.7" ry="16.2" fill="url(#gw)" opacity="0.36" transform="rotate(-8 17.2 67.8)"/><ellipse cx="16.7" cy="67.5" rx="18.4" ry="9.5" fill="url(#gs)" opacity="0.22" transform="rotate(-8 16.7 67.5)"/><ellipse cx="17.2" cy="67.8" rx="11.3" ry="6.2" fill="url(#gs)" opacity="0.65" transform="rotate(-8 17.2 67.8)"/><ellipse cx="24.7" cy="47.8" rx="18.2" ry="14.3" fill="url(#gw)" opacity="0.42"/><ellipse cx="84.7" cy="36.2" rx="21.4" ry="17.8" fill="url(#gw)" opacity="0.47"/><ellipse cx="54.7" cy="69.5" rx="26.2" ry="11.5" fill="url(#gw)" opacity="0.30"/><ellipse cx="38.8" cy="58.7" rx="22.1" ry="14.7" fill="url(#gw)" opacity="0.17" transform="rotate(30 38.8 58.7)"/><ellipse cx="72" cy="11" rx="18.4" ry="29.4" fill="url(#gw)" opacity="0.10"/></g></svg>
<svg x="5.5" y="495.6" width="109" height="75.3"><g filter="url(#jet)"><rect width="109" height="75.3" fill="#262626"/><ellipse cx="26" cy="59" rx="12" ry="10" fill="url(#gk)" opacity="0.75"/><ellipse cx="13" cy="29" rx="24" ry="18" fill="url(#gk)" opacity="0.75"/><ellipse cx="57" cy="25.7" rx="16" ry="14" fill="url(#gk)" opacity="0.75"/><ellipse cx="54" cy="46" rx="14" ry="10" fill="url(#gk)" opacity="0.75"/><ellipse cx="88" cy="57" rx="12" ry="10" fill="url(#gk)" opacity="0.75"/><ellipse cx="24" cy="7.5" rx="20.8" ry="17.9" fill="url(#gw)" opacity="0.31"/><ellipse cx="46" cy="11.6" rx="28.4" ry="25.5" fill="url(#gw)" opacity="0.34"/><ellipse cx="93" cy="16" rx="44.3" ry="25.6" fill="url(#gw)" opacity="0.42" transform="rotate(-30 93 16)"/><ellipse cx="107" cy="7" rx="20.4" ry="20.4" fill="url(#gw)" opacity="0.42"/><ellipse cx="80" cy="25" rx="18.4" ry="18.4" fill="url(#gw)" opacity="0.30"/><ellipse cx="79" cy="38" rx="20.3" ry="20.3" fill="url(#gw)" opacity="0.33"/><ellipse cx="98" cy="43" rx="20.3" ry="17.4" fill="url(#gw)" opacity="0.33"/><ellipse cx="35" cy="41" rx="67.3" ry="22.4" fill="url(#gw)" opacity="0.18"/><ellipse cx="12" cy="47" rx="25.3" ry="21.1" fill="url(#gw)" opacity="0.13"/><ellipse cx="7.7" cy="64" rx="33.5" ry="30.1" fill="url(#gw)" opacity="0.44"/><ellipse cx="31" cy="68.5" rx="25.8" ry="17.2" fill="url(#gw)" opacity="0.33"/><ellipse cx="47.7" cy="59" rx="29" ry="17.4" fill="url(#gw)" opacity="0.33" transform="rotate(-25 47.7 59)"/><ellipse cx="61" cy="65" rx="23.2" ry="17.4" fill="url(#gw)" opacity="0.33"/><ellipse cx="20" cy="73" rx="23.8" ry="11.9" fill="url(#gw)" opacity="0.31"/><ellipse cx="26" cy="58.5" rx="10" ry="8" fill="url(#gk)" opacity="0.45"/><ellipse cx="76" cy="67.3" rx="21.2" ry="19.6" fill="url(#gw)" opacity="0.46"/><ellipse cx="100" cy="66.3" rx="26.8" ry="23.6" fill="url(#gw)" opacity="0.46"/><ellipse cx="100" cy="66.3" rx="8.8" ry="7.9" fill="url(#gs)" opacity="0.99"/></g></svg>
<svg x="138.8" y="495.6" width="109" height="75.3"><g filter="url(#jet)"><rect width="109" height="75.3" fill="#262626"/><ellipse cx="24.7" cy="59" rx="12" ry="10" fill="url(#gk)" opacity="0.75"/><ellipse cx="48" cy="32.3" rx="18" ry="16" fill="url(#gk)" opacity="0.75"/><ellipse cx="10" cy="30" rx="18" ry="16" fill="url(#gk)" opacity="0.75"/><ellipse cx="88" cy="56" rx="12" ry="10" fill="url(#gk)" opacity="0.75"/><ellipse cx="18" cy="7.3" rx="20.8" ry="17.9" fill="url(#gw)" opacity="0.31"/><ellipse cx="43" cy="10.7" rx="26.1" ry="20.3" fill="url(#gw)" opacity="0.33"/><ellipse cx="91.3" cy="20.7" rx="39.7" ry="22.7" fill="url(#gw)" opacity="0.34" transform="rotate(-32 91.3 20.7)"/><ellipse cx="103" cy="12" rx="26.1" ry="19.6" fill="url(#gw)" opacity="0.46"/><ellipse cx="74.7" cy="35.7" rx="17.9" ry="20.8" fill="url(#gw)" opacity="0.31"/><ellipse cx="74.7" cy="47" rx="18.4" ry="18.4" fill="url(#gw)" opacity="0.30"/><ellipse cx="101.3" cy="39" rx="20.8" ry="17.9" fill="url(#gw)" opacity="0.31"/><ellipse cx="31.3" cy="42.3" rx="56.1" ry="20" fill="url(#gw)" opacity="0.21"/><ellipse cx="9" cy="42" rx="22.4" ry="22.4" fill="url(#gw)" opacity="0.15"/><ellipse cx="9.7" cy="67.3" rx="26.1" ry="22.9" fill="url(#gw)" opacity="0.46"/><ellipse cx="30" cy="69" rx="23.8" ry="14.9" fill="url(#gw)" opacity="0.31"/><ellipse cx="41.3" cy="62.3" rx="26.1" ry="17.4" fill="url(#gw)" opacity="0.33" transform="rotate(-25 41.3 62.3)"/><ellipse cx="58" cy="59" rx="23.2" ry="17.4" fill="url(#gw)" opacity="0.33"/><ellipse cx="56" cy="70" rx="23.8" ry="14.9" fill="url(#gw)" opacity="0.31"/><ellipse cx="24.7" cy="58" rx="10" ry="8" fill="url(#gk)" opacity="0.45"/><ellipse cx="74.7" cy="67.3" rx="22.9" ry="19.6" fill="url(#gw)" opacity="0.46"/><ellipse cx="99.7" cy="65.7" rx="26.8" ry="23.6" fill="url(#gw)" opacity="0.46"/><ellipse cx="99.7" cy="65.7" rx="8.8" ry="7.9" fill="url(#gs)" opacity="0.90"/></g></svg>
<svg x="272" y="495.6" width="109" height="75.3"><g filter="url(#jet)"><rect width="109" height="75.3" fill="#262626"/><ellipse cx="24.3" cy="55.7" rx="12" ry="10" fill="url(#gk)" opacity="0.75"/><ellipse cx="51" cy="29" rx="18" ry="14" fill="url(#gk)" opacity="0.75"/><ellipse cx="94.3" cy="29" rx="12" ry="10" fill="url(#gk)" opacity="0.75"/><ellipse cx="8" cy="48" rx="12" ry="10" fill="url(#gk)" opacity="0.75"/><ellipse cx="86" cy="52" rx="14" ry="10" fill="url(#gk)" opacity="0.75"/><ellipse cx="12.7" cy="7.3" rx="20.8" ry="17.9" fill="url(#gw)" opacity="0.31"/><ellipse cx="37.7" cy="9" rx="23.8" ry="17.9" fill="url(#gw)" opacity="0.31"/><ellipse cx="52" cy="15" rx="22.5" ry="18.8" fill="url(#gw)" opacity="0.22"/><ellipse cx="81" cy="15.7" rx="29.8" ry="20.8" fill="url(#gw)" opacity="0.31"/><ellipse cx="97.7" cy="14" rx="35.9" ry="19.6" fill="url(#gw)" opacity="0.46"/><ellipse cx="74.3" cy="35.7" rx="20.8" ry="20.8" fill="url(#gw)" opacity="0.31"/><ellipse cx="101" cy="39" rx="20.8" ry="17.9" fill="url(#gw)" opacity="0.31"/><ellipse cx="88" cy="27" rx="22.5" ry="18.8" fill="url(#gw)" opacity="0.22"/><ellipse cx="21" cy="35.7" rx="37.5" ry="20.8" fill="url(#gw)" opacity="0.20"/><ellipse cx="40" cy="42" rx="35.9" ry="18" fill="url(#gw)" opacity="0.16"/><ellipse cx="9.3" cy="67.3" rx="26.1" ry="22.9" fill="url(#gw)" opacity="0.46"/><ellipse cx="28" cy="70" rx="23.8" ry="14.9" fill="url(#gw)" opacity="0.31"/><ellipse cx="37.7" cy="62.3" rx="26.1" ry="17.4" fill="url(#gw)" opacity="0.33" transform="rotate(-25 37.7 62.3)"/><ellipse cx="57.7" cy="55.7" rx="23.2" ry="17.4" fill="url(#gw)" opacity="0.33"/><ellipse cx="55" cy="69" rx="26.8" ry="14.9" fill="url(#gw)" opacity="0.31"/><ellipse cx="24.3" cy="55.7" rx="10" ry="8" fill="url(#gk)" opacity="0.45"/><ellipse cx="76" cy="67.3" rx="17" ry="17" fill="url(#gw)" opacity="0.42"/><ellipse cx="97.7" cy="64" rx="25.2" ry="22.1" fill="url(#gw)" opacity="0.50"/><ellipse cx="88" cy="70" rx="18.4" ry="12.2" fill="url(#gw)" opacity="0.30"/></g></svg>
<svg x="5.5" y="588" width="109" height="75.3"><g filter="url(#jet)"><rect width="109" height="75.3" fill="#262626"/><ellipse cx="41" cy="26.7" rx="26" ry="16" fill="url(#gk)" opacity="0.75"/><ellipse cx="97.7" cy="43.3" rx="14" ry="12" fill="url(#gk)" opacity="0.75"/><ellipse cx="27.7" cy="46.7" rx="14" ry="10" fill="url(#gk)" opacity="0.75"/><ellipse cx="104" cy="30" rx="10" ry="12" fill="url(#gk)" opacity="0.75"/><ellipse cx="6" cy="6.7" rx="20.8" ry="17.9" fill="url(#gw)" opacity="0.31"/><ellipse cx="32.7" cy="6.7" rx="23.8" ry="17.9" fill="url(#gw)" opacity="0.31"/><ellipse cx="20" cy="16" rx="22.5" ry="18.8" fill="url(#gw)" opacity="0.22"/><ellipse cx="77.7" cy="10" rx="26.1" ry="20.3" fill="url(#gw)" opacity="0.33"/><ellipse cx="94.3" cy="14" rx="35.4" ry="20.9" fill="url(#gw)" opacity="0.48"/><ellipse cx="62" cy="14" rx="24.3" ry="17.4" fill="url(#gw)" opacity="0.24"/><ellipse cx="14.3" cy="33.3" rx="19.3" ry="17.9" fill="url(#gw)" opacity="0.31"/><ellipse cx="71" cy="33.3" rx="23.8" ry="20.8" fill="url(#gw)" opacity="0.31"/><ellipse cx="77.7" cy="46.7" rx="23.8" ry="17.9" fill="url(#gw)" opacity="0.31"/><ellipse cx="92" cy="28" rx="19.6" ry="19.6" fill="url(#gw)" opacity="0.27"/><ellipse cx="55" cy="45" rx="22.9" ry="16.3" fill="url(#gw)" opacity="0.27"/><ellipse cx="34.3" cy="56.7" rx="26.1" ry="17.4" fill="url(#gw)" opacity="0.33"/><ellipse cx="54.3" cy="63.3" rx="28.4" ry="19.9" fill="url(#gw)" opacity="0.34"/><ellipse cx="20" cy="64" rx="23.2" ry="17.4" fill="url(#gw)" opacity="0.33"/><ellipse cx="76" cy="66" rx="28.4" ry="19.9" fill="url(#gw)" opacity="0.34"/><ellipse cx="45" cy="72" rx="34.8" ry="11.6" fill="url(#gw)" opacity="0.33"/><ellipse cx="9.3" cy="65.7" rx="21.2" ry="19.6" fill="url(#gw)" opacity="0.46"/><ellipse cx="97.7" cy="64.3" rx="21.2" ry="19.6" fill="url(#gw)" opacity="0.46"/><ellipse cx="107" cy="50" rx="15" ry="22.5" fill="url(#gw)" opacity="0.22"/></g></svg>
<svg x="138.8" y="588" width="109" height="75.3"><g filter="url(#jet)"><rect width="109" height="75.3" fill="#262626"/><ellipse cx="41.3" cy="25" rx="24" ry="16" fill="url(#gk)" opacity="0.75"/><ellipse cx="28" cy="46.7" rx="14" ry="10" fill="url(#gk)" opacity="0.75"/><ellipse cx="101.3" cy="43.3" rx="12" ry="12" fill="url(#gk)" opacity="0.75"/><ellipse cx="104" cy="5" rx="10" ry="10" fill="url(#gk)" opacity="0.75"/><ellipse cx="8" cy="10" rx="20.8" ry="17.9" fill="url(#gw)" opacity="0.31"/><ellipse cx="34.7" cy="10" rx="20.8" ry="17.9" fill="url(#gw)" opacity="0.31"/><ellipse cx="20" cy="18" rx="22.5" ry="18.8" fill="url(#gw)" opacity="0.22"/><ellipse cx="72" cy="11" rx="23.8" ry="17.9" fill="url(#gw)" opacity="0.31"/><ellipse cx="89.7" cy="14" rx="41.5" ry="22.4" fill="url(#gw)" opacity="0.49"/><ellipse cx="57" cy="16" rx="24.3" ry="17.4" fill="url(#gw)" opacity="0.24"/><ellipse cx="13" cy="33.3" rx="19.3" ry="17.9" fill="url(#gw)" opacity="0.31"/><ellipse cx="74.7" cy="43.3" rx="23.8" ry="20.8" fill="url(#gw)" opacity="0.31"/><ellipse cx="94.7" cy="33.3" rx="20.8" ry="20.8" fill="url(#gw)" opacity="0.31"/><ellipse cx="60" cy="38" rx="22.9" ry="16.3" fill="url(#gw)" opacity="0.27"/><ellipse cx="55" cy="50" rx="20.9" ry="17.4" fill="url(#gw)" opacity="0.24"/><ellipse cx="11.3" cy="65" rx="22.7" ry="19.9" fill="url(#gw)" opacity="0.34"/><ellipse cx="30" cy="62" rx="23.8" ry="17.9" fill="url(#gw)" opacity="0.31"/><ellipse cx="48" cy="60" rx="26.1" ry="17.4" fill="url(#gw)" opacity="0.33"/><ellipse cx="74.7" cy="66.7" rx="25.5" ry="17" fill="url(#gw)" opacity="0.34"/><ellipse cx="60" cy="70" rx="23.2" ry="11.6" fill="url(#gw)" opacity="0.33"/><ellipse cx="101.3" cy="60" rx="20.3" ry="20.3" fill="url(#gw)" opacity="0.33"/><ellipse cx="90" cy="70" rx="20.8" ry="11.9" fill="url(#gw)" opacity="0.31"/></g></svg>
<svg x="272" y="588" width="109" height="75.3"><g filter="url(#jet)"><rect width="109" height="75.3" fill="#262626"/><ellipse cx="36" cy="25" rx="24" ry="16" fill="url(#gk)" opacity="0.75"/><ellipse cx="24.3" cy="46.7" rx="14" ry="10" fill="url(#gk)" opacity="0.75"/><ellipse cx="97.7" cy="43.3" rx="12" ry="12" fill="url(#gk)" opacity="0.75"/><ellipse cx="104" cy="5" rx="10" ry="10" fill="url(#gk)" opacity="0.75"/><ellipse cx="9.3" cy="18.3" rx="20.8" ry="17.9" fill="url(#gw)" opacity="0.31"/><ellipse cx="21" cy="10" rx="20.8" ry="17.9" fill="url(#gw)" opacity="0.31"/><ellipse cx="44.3" cy="13.3" rx="26.1" ry="19.6" fill="url(#gw)" opacity="0.27"/><ellipse cx="68" cy="11" rx="23.8" ry="17.9" fill="url(#gw)" opacity="0.31"/><ellipse cx="86" cy="14" rx="35.1" ry="22.4" fill="url(#gw)" opacity="0.49"/><ellipse cx="102" cy="20" rx="18.4" ry="18.4" fill="url(#gw)" opacity="0.30"/><ellipse cx="11" cy="33.3" rx="19.3" ry="17.9" fill="url(#gw)" opacity="0.31"/><ellipse cx="71" cy="43.3" rx="23.8" ry="20.8" fill="url(#gw)" opacity="0.31"/><ellipse cx="92" cy="32" rx="21.4" ry="21.4" fill="url(#gw)" opacity="0.30"/><ellipse cx="58" cy="36" rx="22.9" ry="16.3" fill="url(#gw)" opacity="0.27"/><ellipse cx="52" cy="50" rx="20.9" ry="17.4" fill="url(#gw)" opacity="0.24"/><ellipse cx="86" cy="55" rx="20.1" ry="16.7" fill="url(#gw)" opacity="0.44"/><ellipse cx="97.7" cy="66.7" rx="23" ry="17.2" fill="url(#gw)" opacity="0.33"/><ellipse cx="11" cy="63.3" rx="22.7" ry="19.9" fill="url(#gw)" opacity="0.34"/><ellipse cx="28" cy="60" rx="23.8" ry="17.9" fill="url(#gw)" opacity="0.31"/><ellipse cx="44.3" cy="60" rx="26.1" ry="17.4" fill="url(#gw)" opacity="0.33"/><ellipse cx="64.3" cy="66.7" rx="25.5" ry="17" fill="url(#gw)" opacity="0.34"/><ellipse cx="78" cy="70" rx="23.8" ry="11.9" fill="url(#gw)" opacity="0.31"/></g></svg>
<svg x="5.5" y="679.9" width="109" height="75.3"><g filter="url(#jet)"><rect width="109" height="75.3" fill="#262626"/><ellipse cx="37.7" cy="35.3" rx="28" ry="16" fill="url(#gk)" opacity="0.75"/><ellipse cx="101" cy="48.7" rx="12" ry="12" fill="url(#gk)" opacity="0.75"/><ellipse cx="41" cy="65" rx="12" ry="8" fill="url(#gk)" opacity="0.75"/><ellipse cx="104" cy="8" rx="12" ry="14" fill="url(#gk)" opacity="0.75"/><ellipse cx="61" cy="8.7" rx="25.5" ry="17" fill="url(#gw)" opacity="0.34"/><ellipse cx="81.7" cy="13.7" rx="26.8" ry="25.2" fill="url(#gw)" opacity="0.50"/><ellipse cx="7.7" cy="22" rx="20.3" ry="20.3" fill="url(#gw)" opacity="0.33"/><ellipse cx="34.3" cy="15.3" rx="27.8" ry="17.4" fill="url(#gw)" opacity="0.24"/><ellipse cx="21" cy="12" rx="22.5" ry="18.8" fill="url(#gw)" opacity="0.22"/><ellipse cx="74.3" cy="40.3" rx="23.8" ry="17.9" fill="url(#gw)" opacity="0.31"/><ellipse cx="94.3" cy="32" rx="20.8" ry="23.8" fill="url(#gw)" opacity="0.31"/><ellipse cx="88" cy="24" rx="18.4" ry="18.4" fill="url(#gw)" opacity="0.30"/><ellipse cx="100" cy="45" rx="18.8" ry="18.8" fill="url(#gw)" opacity="0.22"/><ellipse cx="17.7" cy="53.7" rx="34.8" ry="17.4" fill="url(#gw)" opacity="0.33"/><ellipse cx="54.3" cy="48.7" rx="26.8" ry="17.9" fill="url(#gw)" opacity="0.31"/><ellipse cx="61" cy="63.7" rx="26.1" ry="17.4" fill="url(#gw)" opacity="0.33"/><ellipse cx="35" cy="56" rx="22.9" ry="16.3" fill="url(#gw)" opacity="0.27"/><ellipse cx="82.7" cy="55.3" rx="25.2" ry="23.6" fill="url(#gw)" opacity="0.50"/><ellipse cx="98" cy="62" rx="18.4" ry="18.4" fill="url(#gw)" opacity="0.30"/><ellipse cx="75" cy="70" rx="30.6" ry="12.2" fill="url(#gw)" opacity="0.30"/><ellipse cx="10" cy="68" rx="27.8" ry="17.4" fill="url(#gw)" opacity="0.24"/></g></svg>
<svg x="138.8" y="679.9" width="109" height="75.3"><g filter="url(#jet)"><rect width="109" height="75.3" fill="#262626"/><ellipse cx="38" cy="33.7" rx="26" ry="16" fill="url(#gk)" opacity="0.75"/><ellipse cx="104.7" cy="32" rx="10" ry="14" fill="url(#gk)" opacity="0.75"/><ellipse cx="100" cy="8" rx="16" ry="14" fill="url(#gk)" opacity="0.75"/><ellipse cx="95" cy="70" rx="12" ry="8" fill="url(#gk)" opacity="0.75"/><ellipse cx="51.3" cy="8.7" rx="25.5" ry="17" fill="url(#gw)" opacity="0.34"/><ellipse cx="76.3" cy="13.7" rx="27.8" ry="26.1" fill="url(#gw)" opacity="0.46"/><ellipse cx="8" cy="15.3" rx="20.3" ry="20.3" fill="url(#gw)" opacity="0.33"/><ellipse cx="31.3" cy="22" rx="30.1" ry="18.8" fill="url(#gw)" opacity="0.22"/><ellipse cx="28" cy="9" rx="22.5" ry="18.8" fill="url(#gw)" opacity="0.22"/><ellipse cx="88" cy="32" rx="20.3" ry="26.1" fill="url(#gw)" opacity="0.33"/><ellipse cx="82" cy="22" rx="17.9" ry="17.9" fill="url(#gw)" opacity="0.31"/><ellipse cx="70" cy="40" rx="22.9" ry="16.3" fill="url(#gw)" opacity="0.27"/><ellipse cx="14.7" cy="55.3" rx="26.1" ry="17.4" fill="url(#gw)" opacity="0.33"/><ellipse cx="48" cy="45.3" rx="32.7" ry="14.9" fill="url(#gw)" opacity="0.31" transform="rotate(-15 48 45.3)"/><ellipse cx="61.3" cy="67" rx="26.1" ry="14.5" fill="url(#gw)" opacity="0.33"/><ellipse cx="32" cy="52" rx="22.9" ry="16.3" fill="url(#gw)" opacity="0.27"/><ellipse cx="81.3" cy="55.3" rx="25.3" ry="23.8" fill="url(#gw)" opacity="0.59"/><ellipse cx="106.3" cy="58.7" rx="14.5" ry="23.2" fill="url(#gw)" opacity="0.33"/><ellipse cx="21.3" cy="70.3" rx="26.1" ry="11.6" fill="url(#gw)" opacity="0.33"/><ellipse cx="45" cy="68" rx="26.1" ry="16.3" fill="url(#gw)" opacity="0.27"/></g></svg>
<svg x="272" y="679.9" width="109" height="75.3"><g filter="url(#jet)"><rect width="109" height="75.3" fill="#262626"/><ellipse cx="37.7" cy="32" rx="26" ry="16" fill="url(#gk)" opacity="0.75"/><ellipse cx="21" cy="67" rx="12" ry="10" fill="url(#gk)" opacity="0.75"/><ellipse cx="105" cy="10" rx="12" ry="16" fill="url(#gk)" opacity="0.75"/><ellipse cx="90" cy="70" rx="10" ry="8" fill="url(#gk)" opacity="0.75"/><ellipse cx="47.7" cy="7" rx="25.5" ry="17" fill="url(#gw)" opacity="0.34"/><ellipse cx="71" cy="13.7" rx="26.1" ry="24.5" fill="url(#gw)" opacity="0.46"/><ellipse cx="7.7" cy="15.3" rx="22.9" ry="19.6" fill="url(#gw)" opacity="0.27"/><ellipse cx="27" cy="16" rx="28.1" ry="20" fill="url(#gw)" opacity="0.21"/><ellipse cx="74.3" cy="38.7" rx="20.1" ry="18.4" fill="url(#gw)" opacity="0.44"/><ellipse cx="94.3" cy="25.3" rx="20.8" ry="20.8" fill="url(#gw)" opacity="0.31"/><ellipse cx="84" cy="26" rx="18.4" ry="18.4" fill="url(#gw)" opacity="0.30"/><ellipse cx="101" cy="42" rx="20.8" ry="20.8" fill="url(#gw)" opacity="0.31"/><ellipse cx="14.3" cy="55.3" rx="26.1" ry="17.4" fill="url(#gw)" opacity="0.33"/><ellipse cx="37.7" cy="48.7" rx="26.8" ry="17.9" fill="url(#gw)" opacity="0.31"/><ellipse cx="51" cy="58.7" rx="26.1" ry="17.4" fill="url(#gw)" opacity="0.33"/><ellipse cx="62" cy="48" rx="19.6" ry="16.3" fill="url(#gw)" opacity="0.27"/><ellipse cx="79.3" cy="55.3" rx="25.3" ry="23.8" fill="url(#gw)" opacity="0.59"/><ellipse cx="102.7" cy="63.7" rx="23.9" ry="23.9" fill="url(#gw)" opacity="0.42"/><ellipse cx="40" cy="68" rx="27.5" ry="15.3" fill="url(#gw)" opacity="0.30"/><ellipse cx="65" cy="70" rx="27.5" ry="12.2" fill="url(#gw)" opacity="0.30"/><ellipse cx="21" cy="68" rx="10" ry="8" fill="url(#gk)" opacity="0.40"/></g></svg>
<svg x="5.5" y="772" width="109" height="60.9"><g filter="url(#jet)"><rect width="109" height="75.3" fill="#262626"/><ellipse cx="25" cy="35" rx="32" ry="20" fill="url(#gk)" opacity="0.75"/><ellipse cx="100" cy="8" rx="16" ry="12" fill="url(#gk)" opacity="0.75"/><ellipse cx="88" cy="48" rx="10" ry="10" fill="url(#gk)" opacity="0.75"/><ellipse cx="44.3" cy="7.3" rx="23.2" ry="17.4" fill="url(#gw)" opacity="0.33"/><ellipse cx="66" cy="13.3" rx="26.8" ry="25.1" fill="url(#gw)" opacity="0.44"/><ellipse cx="14.3" cy="13.3" rx="26.3" ry="22.5" fill="url(#gw)" opacity="0.22"/><ellipse cx="30" cy="10" rx="24" ry="20" fill="url(#gw)" opacity="0.21"/><ellipse cx="72.7" cy="38.3" rx="30.1" ry="20.1" fill="url(#gw)" opacity="0.44"/><ellipse cx="84" cy="24" rx="22.1" ry="18.9" fill="url(#gw)" opacity="0.28"/><ellipse cx="94.3" cy="33.3" rx="24.3" ry="20.9" fill="url(#gw)" opacity="0.24"/><ellipse cx="104.3" cy="46.7" rx="17.9" ry="20.8" fill="url(#gw)" opacity="0.31"/><ellipse cx="100" cy="18" rx="22.5" ry="18.8" fill="url(#gw)" opacity="0.22"/><ellipse cx="11" cy="56.7" rx="23.8" ry="17.9" fill="url(#gw)" opacity="0.31"/><ellipse cx="44.3" cy="56.7" rx="29.4" ry="19.6" fill="url(#gw)" opacity="0.27"/><ellipse cx="28" cy="64" rx="25.3" ry="15.8" fill="url(#gw)" opacity="0.28"/><ellipse cx="58" cy="50" rx="22.9" ry="16.3" fill="url(#gw)" opacity="0.27"/><ellipse cx="76" cy="56" rx="26.4" ry="24.9" fill="url(#gw)" opacity="0.52"/><ellipse cx="60" cy="66" rx="26.8" ry="14.9" fill="url(#gw)" opacity="0.31"/><ellipse cx="95" cy="66" rx="26.1" ry="14.5" fill="url(#gw)" opacity="0.33"/><ellipse cx="105" cy="68" rx="15.6" ry="15.6" fill="url(#gw)" opacity="0.52"/><ellipse cx="12" cy="70" rx="23.2" ry="11.6" fill="url(#gw)" opacity="0.33"/><ellipse cx="45" cy="71" rx="23.8" ry="8.9" fill="url(#gw)" opacity="0.31"/></g></svg><svg x="8.7" y="832.9" width="109" height="14" viewBox="0 60.9 109 14"><g filter="url(#gl)"><rect width="109" height="75.3" fill="#262626"/><ellipse cx="25" cy="35" rx="32" ry="20" fill="url(#gk)" opacity="0.75"/><ellipse cx="100" cy="8" rx="16" ry="12" fill="url(#gk)" opacity="0.75"/><ellipse cx="88" cy="48" rx="10" ry="10" fill="url(#gk)" opacity="0.75"/><ellipse cx="44.3" cy="7.3" rx="23.2" ry="17.4" fill="url(#gw)" opacity="0.33"/><ellipse cx="66" cy="13.3" rx="26.8" ry="25.1" fill="url(#gw)" opacity="0.44"/><ellipse cx="14.3" cy="13.3" rx="26.3" ry="22.5" fill="url(#gw)" opacity="0.22"/><ellipse cx="30" cy="10" rx="24" ry="20" fill="url(#gw)" opacity="0.21"/><ellipse cx="72.7" cy="38.3" rx="30.1" ry="20.1" fill="url(#gw)" opacity="0.44"/><ellipse cx="84" cy="24" rx="22.1" ry="18.9" fill="url(#gw)" opacity="0.28"/><ellipse cx="94.3" cy="33.3" rx="24.3" ry="20.9" fill="url(#gw)" opacity="0.24"/><ellipse cx="104.3" cy="46.7" rx="17.9" ry="20.8" fill="url(#gw)" opacity="0.31"/><ellipse cx="100" cy="18" rx="22.5" ry="18.8" fill="url(#gw)" opacity="0.22"/><ellipse cx="11" cy="56.7" rx="23.8" ry="17.9" fill="url(#gw)" opacity="0.31"/><ellipse cx="44.3" cy="56.7" rx="29.4" ry="19.6" fill="url(#gw)" opacity="0.27"/><ellipse cx="28" cy="64" rx="25.3" ry="15.8" fill="url(#gw)" opacity="0.28"/><ellipse cx="58" cy="50" rx="22.9" ry="16.3" fill="url(#gw)" opacity="0.27"/><ellipse cx="76" cy="56" rx="26.4" ry="24.9" fill="url(#gw)" opacity="0.52"/><ellipse cx="60" cy="66" rx="26.8" ry="14.9" fill="url(#gw)" opacity="0.31"/><ellipse cx="95" cy="66" rx="26.1" ry="14.5" fill="url(#gw)" opacity="0.33"/><ellipse cx="105" cy="68" rx="15.6" ry="15.6" fill="url(#gw)" opacity="0.52"/><ellipse cx="12" cy="70" rx="23.2" ry="11.6" fill="url(#gw)" opacity="0.33"/><ellipse cx="45" cy="71" rx="23.8" ry="8.9" fill="url(#gw)" opacity="0.31"/></g></svg>
<svg x="138.8" y="772" width="109" height="60.9"><g filter="url(#jet)"><rect width="109" height="75.3" fill="#262626"/><ellipse cx="30" cy="33" rx="32" ry="18" fill="url(#gk)" opacity="0.75"/><ellipse cx="100" cy="55" rx="10" ry="10" fill="url(#gk)" opacity="0.75"/><ellipse cx="85" cy="8" rx="14" ry="10" fill="url(#gk)" opacity="0.75"/><ellipse cx="38" cy="8.3" rx="23.2" ry="17.4" fill="url(#gw)" opacity="0.33"/><ellipse cx="60.3" cy="13.3" rx="23.9" ry="23.9" fill="url(#gw)" opacity="0.42"/><ellipse cx="8" cy="26.7" rx="26.3" ry="22.5" fill="url(#gw)" opacity="0.22"/><ellipse cx="22" cy="12" rx="26.9" ry="22.4" fill="url(#gw)" opacity="0.18"/><ellipse cx="94.7" cy="23.3" rx="37.7" ry="17.4" fill="url(#gw)" opacity="0.33" transform="rotate(-35 94.7 23.3)"/><ellipse cx="75" cy="36" rx="26.1" ry="17.4" fill="url(#gw)" opacity="0.33" transform="rotate(-25 75 36)"/><ellipse cx="105" cy="10" rx="17.9" ry="17.9" fill="url(#gw)" opacity="0.31"/><ellipse cx="106.3" cy="46.7" rx="14.9" ry="20.8" fill="url(#gw)" opacity="0.31"/><ellipse cx="34.7" cy="53.3" rx="28.4" ry="18.9" fill="url(#gw)" opacity="0.28"/><ellipse cx="10" cy="58" rx="23.8" ry="17.9" fill="url(#gw)" opacity="0.31"/><ellipse cx="55" cy="48" rx="22.9" ry="16.3" fill="url(#gw)" opacity="0.27"/><ellipse cx="74.7" cy="55" rx="29.4" ry="19.6" fill="url(#gw)" opacity="0.46"/><ellipse cx="55" cy="64" rx="26.8" ry="14.9" fill="url(#gw)" opacity="0.31"/><ellipse cx="92" cy="64" rx="23.8" ry="14.9" fill="url(#gw)" opacity="0.31"/><ellipse cx="8" cy="69" rx="23.9" ry="13.6" fill="url(#gw)" opacity="0.42"/><ellipse cx="30" cy="70" rx="23.8" ry="11.9" fill="url(#gw)" opacity="0.31"/><ellipse cx="101" cy="67.5" rx="12.3" ry="10.4" fill="url(#gw)" opacity="0.85"/></g></svg><svg x="142" y="832.9" width="109" height="14" viewBox="0 60.9 109 14"><g filter="url(#gl)"><rect width="109" height="75.3" fill="#262626"/><ellipse cx="30" cy="33" rx="32" ry="18" fill="url(#gk)" opacity="0.75"/><ellipse cx="100" cy="55" rx="10" ry="10" fill="url(#gk)" opacity="0.75"/><ellipse cx="85" cy="8" rx="14" ry="10" fill="url(#gk)" opacity="0.75"/><ellipse cx="38" cy="8.3" rx="23.2" ry="17.4" fill="url(#gw)" opacity="0.33"/><ellipse cx="60.3" cy="13.3" rx="23.9" ry="23.9" fill="url(#gw)" opacity="0.42"/><ellipse cx="8" cy="26.7" rx="26.3" ry="22.5" fill="url(#gw)" opacity="0.22"/><ellipse cx="22" cy="12" rx="26.9" ry="22.4" fill="url(#gw)" opacity="0.18"/><ellipse cx="94.7" cy="23.3" rx="37.7" ry="17.4" fill="url(#gw)" opacity="0.33" transform="rotate(-35 94.7 23.3)"/><ellipse cx="75" cy="36" rx="26.1" ry="17.4" fill="url(#gw)" opacity="0.33" transform="rotate(-25 75 36)"/><ellipse cx="105" cy="10" rx="17.9" ry="17.9" fill="url(#gw)" opacity="0.31"/><ellipse cx="106.3" cy="46.7" rx="14.9" ry="20.8" fill="url(#gw)" opacity="0.31"/><ellipse cx="34.7" cy="53.3" rx="28.4" ry="18.9" fill="url(#gw)" opacity="0.28"/><ellipse cx="10" cy="58" rx="23.8" ry="17.9" fill="url(#gw)" opacity="0.31"/><ellipse cx="55" cy="48" rx="22.9" ry="16.3" fill="url(#gw)" opacity="0.27"/><ellipse cx="74.7" cy="55" rx="29.4" ry="19.6" fill="url(#gw)" opacity="0.46"/><ellipse cx="55" cy="64" rx="26.8" ry="14.9" fill="url(#gw)" opacity="0.31"/><ellipse cx="92" cy="64" rx="23.8" ry="14.9" fill="url(#gw)" opacity="0.31"/><ellipse cx="8" cy="69" rx="23.9" ry="13.6" fill="url(#gw)" opacity="0.42"/><ellipse cx="30" cy="70" rx="23.8" ry="11.9" fill="url(#gw)" opacity="0.31"/><ellipse cx="101" cy="67.5" rx="12.3" ry="10.4" fill="url(#gw)" opacity="0.85"/></g></svg>
<svg x="272" y="772" width="109" height="60.9"><g filter="url(#jet)"><rect width="109" height="75.3" fill="#262626"/><ellipse cx="25" cy="30" rx="32" ry="20" fill="url(#gk)" opacity="0.75"/><ellipse cx="91" cy="43.3" rx="14" ry="12" fill="url(#gk)" opacity="0.75"/><ellipse cx="80" cy="8" rx="14" ry="10" fill="url(#gk)" opacity="0.75"/><ellipse cx="27.7" cy="8.3" rx="20.8" ry="17.9" fill="url(#gw)" opacity="0.31"/><ellipse cx="54.3" cy="10" rx="27.3" ry="23.9" fill="url(#gw)" opacity="0.42"/><ellipse cx="8" cy="14" rx="26.9" ry="22.4" fill="url(#gw)" opacity="0.18"/><ellipse cx="97.7" cy="15" rx="37.7" ry="17.4" fill="url(#gw)" opacity="0.33" transform="rotate(-35 97.7 15)"/><ellipse cx="78" cy="30" rx="29" ry="17.4" fill="url(#gw)" opacity="0.33" transform="rotate(-30 78 30)"/><ellipse cx="66" cy="40" rx="21.4" ry="15.3" fill="url(#gw)" opacity="0.30"/><ellipse cx="107" cy="5" rx="14.9" ry="14.9" fill="url(#gw)" opacity="0.31"/><ellipse cx="109" cy="46.7" rx="11.9" ry="20.8" fill="url(#gw)" opacity="0.31"/><ellipse cx="44.3" cy="46.7" rx="27.5" ry="18.4" fill="url(#gw)" opacity="0.30"/><ellipse cx="17.7" cy="56.7" rx="23.8" ry="17.9" fill="url(#gw)" opacity="0.31"/><ellipse cx="30" cy="50" rx="22.5" ry="18.8" fill="url(#gw)" opacity="0.22"/><ellipse cx="77.7" cy="56.7" rx="26.1" ry="17.4" fill="url(#gw)" opacity="0.33"/><ellipse cx="58" cy="62" rx="26.8" ry="14.9" fill="url(#gw)" opacity="0.31"/><ellipse cx="95" cy="64" rx="23.8" ry="14.9" fill="url(#gw)" opacity="0.31"/><ellipse cx="10" cy="69" rx="23.8" ry="11.9" fill="url(#gw)" opacity="0.31"/><ellipse cx="32" cy="70" rx="23.8" ry="11.9" fill="url(#gw)" opacity="0.31"/><ellipse cx="76" cy="69" rx="20.4" ry="13.6" fill="url(#gw)" opacity="0.42"/><ellipse cx="100" cy="67.5" rx="13.3" ry="11.4" fill="url(#gw)" opacity="0.97"/></g></svg><svg x="275.2" y="832.9" width="109" height="14" viewBox="0 60.9 109 14"><g filter="url(#gl)"><rect width="109" height="75.3" fill="#262626"/><ellipse cx="25" cy="30" rx="32" ry="20" fill="url(#gk)" opacity="0.75"/><ellipse cx="91" cy="43.3" rx="14" ry="12" fill="url(#gk)" opacity="0.75"/><ellipse cx="80" cy="8" rx="14" ry="10" fill="url(#gk)" opacity="0.75"/><ellipse cx="27.7" cy="8.3" rx="20.8" ry="17.9" fill="url(#gw)" opacity="0.31"/><ellipse cx="54.3" cy="10" rx="27.3" ry="23.9" fill="url(#gw)" opacity="0.42"/><ellipse cx="8" cy="14" rx="26.9" ry="22.4" fill="url(#gw)" opacity="0.18"/><ellipse cx="97.7" cy="15" rx="37.7" ry="17.4" fill="url(#gw)" opacity="0.33" transform="rotate(-35 97.7 15)"/><ellipse cx="78" cy="30" rx="29" ry="17.4" fill="url(#gw)" opacity="0.33" transform="rotate(-30 78 30)"/><ellipse cx="66" cy="40" rx="21.4" ry="15.3" fill="url(#gw)" opacity="0.30"/><ellipse cx="107" cy="5" rx="14.9" ry="14.9" fill="url(#gw)" opacity="0.31"/><ellipse cx="109" cy="46.7" rx="11.9" ry="20.8" fill="url(#gw)" opacity="0.31"/><ellipse cx="44.3" cy="46.7" rx="27.5" ry="18.4" fill="url(#gw)" opacity="0.30"/><ellipse cx="17.7" cy="56.7" rx="23.8" ry="17.9" fill="url(#gw)" opacity="0.31"/><ellipse cx="30" cy="50" rx="22.5" ry="18.8" fill="url(#gw)" opacity="0.22"/><ellipse cx="77.7" cy="56.7" rx="26.1" ry="17.4" fill="url(#gw)" opacity="0.33"/><ellipse cx="58" cy="62" rx="26.8" ry="14.9" fill="url(#gw)" opacity="0.31"/><ellipse cx="95" cy="64" rx="23.8" ry="14.9" fill="url(#gw)" opacity="0.31"/><ellipse cx="10" cy="69" rx="23.8" ry="11.9" fill="url(#gw)" opacity="0.31"/><ellipse cx="32" cy="70" rx="23.8" ry="11.9" fill="url(#gw)" opacity="0.31"/><ellipse cx="76" cy="69" rx="20.4" ry="13.6" fill="url(#gw)" opacity="0.42"/><ellipse cx="100" cy="67.5" rx="13.3" ry="11.4" fill="url(#gw)" opacity="0.97"/></g></svg>
<svg x="8.4" y="864.5" width="109" height="75.3"><g filter="url(#gl)"><rect width="109" height="75.3" fill="#262626"/><ellipse cx="26" cy="59" rx="12" ry="10" fill="url(#gk)" opacity="0.75"/><ellipse cx="13" cy="29" rx="24" ry="18" fill="url(#gk)" opacity="0.75"/><ellipse cx="57" cy="25.7" rx="16" ry="14" fill="url(#gk)" opacity="0.75"/><ellipse cx="54" cy="46" rx="14" ry="10" fill="url(#gk)" opacity="0.75"/><ellipse cx="88" cy="57" rx="12" ry="10" fill="url(#gk)" opacity="0.75"/><ellipse cx="24" cy="7.5" rx="20.8" ry="17.9" fill="url(#gw)" opacity="0.31"/><ellipse cx="46" cy="11.6" rx="28.4" ry="25.5" fill="url(#gw)" opacity="0.34"/><ellipse cx="93" cy="16" rx="44.3" ry="25.6" fill="url(#gw)" opacity="0.42" transform="rotate(-30 93 16)"/><ellipse cx="107" cy="7" rx="20.4" ry="20.4" fill="url(#gw)" opacity="0.42"/><ellipse cx="80" cy="25" rx="18.4" ry="18.4" fill="url(#gw)" opacity="0.30"/><ellipse cx="79" cy="38" rx="20.3" ry="20.3" fill="url(#gw)" opacity="0.33"/><ellipse cx="98" cy="43" rx="20.3" ry="17.4" fill="url(#gw)" opacity="0.33"/><ellipse cx="35" cy="41" rx="67.3" ry="22.4" fill="url(#gw)" opacity="0.18"/><ellipse cx="12" cy="47" rx="25.3" ry="21.1" fill="url(#gw)" opacity="0.13"/><ellipse cx="7.7" cy="64" rx="33.5" ry="30.1" fill="url(#gw)" opacity="0.44"/><ellipse cx="31" cy="68.5" rx="25.8" ry="17.2" fill="url(#gw)" opacity="0.33"/><ellipse cx="47.7" cy="59" rx="29" ry="17.4" fill="url(#gw)" opacity="0.33" transform="rotate(-25 47.7 59)"/><ellipse cx="61" cy="65" rx="23.2" ry="17.4" fill="url(#gw)" opacity="0.33"/><ellipse cx="20" cy="73" rx="23.8" ry="11.9" fill="url(#gw)" opacity="0.31"/><ellipse cx="26" cy="58.5" rx="10" ry="8" fill="url(#gk)" opacity="0.45"/><ellipse cx="76" cy="67.3" rx="21.2" ry="19.6" fill="url(#gw)" opacity="0.46"/><ellipse cx="100" cy="66.3" rx="26.8" ry="23.6" fill="url(#gw)" opacity="0.46"/><ellipse cx="100" cy="66.3" rx="8.8" ry="7.9" fill="url(#gs)" opacity="0.99"/></g></svg>
<svg x="422" y="495.6" width="108.4" height="75.3"><g filter="url(#jet)"><rect width="108.4" height="75.3" fill="#808080"/><ellipse cx="12" cy="29" rx="42.4" ry="35.6" fill="url(#gk)" opacity="0.35"/><ellipse cx="12" cy="29" rx="29.7" ry="24.3" fill="url(#gk)" opacity="0.82"/><ellipse cx="30" cy="19" rx="35.6" ry="22" fill="url(#gk)" opacity="0.35"/><ellipse cx="30" cy="19" rx="24.3" ry="13.5" fill="url(#gk)" opacity="0.73"/><ellipse cx="42" cy="27" rx="14" ry="12" fill="url(#gk)" opacity="0.50"/><ellipse cx="2" cy="44" rx="18.6" ry="25.4" fill="url(#gk)" opacity="0.35"/><ellipse cx="2" cy="44" rx="10.8" ry="16.2" fill="url(#gk)" opacity="0.60"/><ellipse cx="99" cy="5" rx="39" ry="28.8" fill="url(#gk)" opacity="0.35"/><ellipse cx="99" cy="5" rx="27" ry="18.9" fill="url(#gk)" opacity="0.80"/><ellipse cx="101" cy="43" rx="32.2" ry="42.4" fill="url(#gk)" opacity="0.35"/><ellipse cx="101" cy="43" rx="21.6" ry="29.7" fill="url(#gk)" opacity="0.82"/><ellipse cx="88" cy="30" rx="16" ry="14" fill="url(#gk)" opacity="0.50"/><ellipse cx="77" cy="36" rx="16" ry="10" fill="url(#gk)" opacity="0.50"/><ellipse cx="60" cy="40" rx="20" ry="8" fill="url(#gk)" opacity="0.25"/><ellipse cx="70" cy="14" rx="32" ry="18" fill="url(#gw)" opacity="0.16"/><ellipse cx="28" cy="5" rx="48" ry="8" fill="url(#gw)" opacity="0.15"/><ellipse cx="4" cy="4" rx="12" ry="10" fill="url(#gw)" opacity="0.18"/><ellipse cx="30" cy="68" rx="60" ry="16" fill="url(#gw)" opacity="0.16"/><ellipse cx="80" cy="68" rx="56" ry="16" fill="url(#gw)" opacity="0.12"/><ellipse cx="77" cy="64" rx="20" ry="12" fill="url(#gw)" opacity="0.12"/><ellipse cx="70.7" cy="9" rx="11" ry="11" fill="url(#gw)" opacity="0.20"/><ellipse cx="70.7" cy="9" rx="6.2" ry="6.2" fill="url(#gs)" opacity="0.11"/><ellipse cx="15.7" cy="57.3" rx="15.4" ry="15.4" fill="url(#gw)" opacity="0.20"/><ellipse cx="15.7" cy="57.3" rx="8.8" ry="8.8" fill="url(#gs)" opacity="0.67"/><ellipse cx="39" cy="68.3" rx="26.4" ry="14.3" fill="url(#gw)" opacity="0.20"/><ellipse cx="39" cy="68.3" rx="15" ry="8.1" fill="url(#gs)" opacity="1.00"/></g></svg>
<svg x="554.2" y="495.6" width="108.4" height="75.3"><g filter="url(#jet)"><rect width="108.4" height="75.3" fill="#808080"/><ellipse cx="11" cy="27" rx="39" ry="35.6" fill="url(#gk)" opacity="0.35"/><ellipse cx="11" cy="27" rx="27" ry="24.3" fill="url(#gk)" opacity="0.82"/><ellipse cx="32" cy="27" rx="35.6" ry="32.2" fill="url(#gk)" opacity="0.35"/><ellipse cx="32" cy="27" rx="24.3" ry="21.6" fill="url(#gk)" opacity="0.77"/><ellipse cx="2" cy="44" rx="18.6" ry="25.4" fill="url(#gk)" opacity="0.35"/><ellipse cx="2" cy="44" rx="10.8" ry="16.2" fill="url(#gk)" opacity="0.60"/><ellipse cx="99" cy="5" rx="39" ry="25.4" fill="url(#gk)" opacity="0.35"/><ellipse cx="99" cy="5" rx="27" ry="16.2" fill="url(#gk)" opacity="0.80"/><ellipse cx="80" cy="29" rx="23.7" ry="23.7" fill="url(#gk)" opacity="0.35"/><ellipse cx="80" cy="29" rx="14.9" ry="14.9" fill="url(#gk)" opacity="0.77"/><ellipse cx="101" cy="42" rx="32.2" ry="35.6" fill="url(#gk)" opacity="0.35"/><ellipse cx="101" cy="42" rx="21.6" ry="24.3" fill="url(#gk)" opacity="0.80"/><ellipse cx="90" cy="34" rx="16" ry="12" fill="url(#gk)" opacity="0.50"/><ellipse cx="60" cy="40" rx="20" ry="8" fill="url(#gk)" opacity="0.25"/><ellipse cx="68" cy="14" rx="32" ry="18" fill="url(#gw)" opacity="0.16"/><ellipse cx="28" cy="5" rx="48" ry="8" fill="url(#gw)" opacity="0.15"/><ellipse cx="4" cy="4" rx="12" ry="10" fill="url(#gw)" opacity="0.18"/><ellipse cx="30" cy="68" rx="60" ry="16" fill="url(#gw)" opacity="0.16"/><ellipse cx="80" cy="68" rx="56" ry="16" fill="url(#gw)" opacity="0.12"/><ellipse cx="78" cy="64" rx="20" ry="12" fill="url(#gw)" opacity="0.12"/><ellipse cx="101.7" cy="64" rx="14" ry="12" fill="url(#gw)" opacity="0.12"/><ellipse cx="67" cy="9" rx="11" ry="11" fill="url(#gw)" opacity="0.20"/><ellipse cx="67" cy="9" rx="6.2" ry="6.2" fill="url(#gs)" opacity="0.17"/><ellipse cx="11.5" cy="66.5" rx="11" ry="13.2" fill="url(#gw)" opacity="0.20" transform="rotate(30 11.5 66.5)"/><ellipse cx="11.5" cy="66.5" rx="6.2" ry="7.5" fill="url(#gs)" opacity="0.11" transform="rotate(30 11.5 66.5)"/><ellipse cx="16.4" cy="57.5" rx="14.3" ry="15.4" fill="url(#gw)" opacity="0.20"/><ellipse cx="16.4" cy="57.5" rx="8.1" ry="8.8" fill="url(#gs)" opacity="0.56"/><ellipse cx="41.7" cy="67.6" rx="24.2" ry="13.2" fill="url(#gw)" opacity="0.20"/><ellipse cx="41.7" cy="67.6" rx="13.8" ry="7.5" fill="url(#gs)" opacity="0.81"/></g></svg>
<svg x="686.8" y="495.6" width="108.4" height="75.3"><g filter="url(#jet)"><rect width="108.4" height="75.3" fill="#808080"/><ellipse cx="5" cy="26" rx="32.2" ry="45.8" fill="url(#gk)" opacity="0.35"/><ellipse cx="5" cy="26" rx="21.6" ry="32.4" fill="url(#gk)" opacity="0.82"/><ellipse cx="27" cy="29" rx="39" ry="32.2" fill="url(#gk)" opacity="0.35"/><ellipse cx="27" cy="29" rx="27" ry="21.6" fill="url(#gk)" opacity="0.82"/><ellipse cx="34" cy="7" rx="32.2" ry="25.4" fill="url(#gk)" opacity="0.35"/><ellipse cx="34" cy="7" rx="21.6" ry="16.2" fill="url(#gk)" opacity="0.77"/><ellipse cx="16" cy="2" rx="16" ry="8" fill="url(#gk)" opacity="0.50"/><ellipse cx="104" cy="3" rx="25.4" ry="25.4" fill="url(#gk)" opacity="0.35"/><ellipse cx="104" cy="3" rx="16.2" ry="16.2" fill="url(#gk)" opacity="0.77"/><ellipse cx="84" cy="29" rx="25.4" ry="25.4" fill="url(#gk)" opacity="0.35"/><ellipse cx="84" cy="29" rx="16.2" ry="16.2" fill="url(#gk)" opacity="0.77"/><ellipse cx="103" cy="45" rx="28.8" ry="32.2" fill="url(#gk)" opacity="0.35"/><ellipse cx="103" cy="45" rx="18.9" ry="21.6" fill="url(#gk)" opacity="0.80"/><ellipse cx="94" cy="37" rx="16" ry="12" fill="url(#gk)" opacity="0.60"/><ellipse cx="58" cy="40" rx="20" ry="8" fill="url(#gk)" opacity="0.25"/><ellipse cx="11.7" cy="9.5" rx="14" ry="10" fill="url(#gw)" opacity="0.45"/><ellipse cx="66" cy="14" rx="32" ry="18" fill="url(#gw)" opacity="0.16"/><ellipse cx="30" cy="68" rx="60" ry="16" fill="url(#gw)" opacity="0.16"/><ellipse cx="80" cy="68" rx="56" ry="16" fill="url(#gw)" opacity="0.12"/><ellipse cx="80" cy="64" rx="20" ry="12" fill="url(#gw)" opacity="0.10"/><ellipse cx="61.6" cy="8.5" rx="8.8" ry="8.8" fill="url(#gw)" opacity="0.20"/><ellipse cx="13" cy="68" rx="11" ry="11" fill="url(#gw)" opacity="0.20" transform="rotate(30 13 68)"/><ellipse cx="18" cy="61" rx="12.1" ry="16.5" fill="url(#gw)" opacity="0.20" transform="rotate(25 18 61)"/><ellipse cx="18" cy="61" rx="6.9" ry="9.4" fill="url(#gs)" opacity="0.11" transform="rotate(25 18 61)"/><ellipse cx="41.7" cy="69" rx="19.8" ry="9.9" fill="url(#gw)" opacity="0.20"/><ellipse cx="41.7" cy="69" rx="11.2" ry="5.6" fill="url(#gs)" opacity="0.28"/></g></svg>
<svg x="422" y="588" width="108.4" height="75.3"><g filter="url(#jet)"><rect width="108.4" height="75.3" fill="#808080"/><ellipse cx="58" cy="42" rx="52" ry="12" fill="url(#gk)" opacity="0.28"/><ellipse cx="90" cy="40" rx="20" ry="16" fill="url(#gk)" opacity="0.25"/><ellipse cx="9" cy="10" rx="45.8" ry="52.6" fill="url(#gk)" opacity="0.35"/><ellipse cx="9" cy="10" rx="32.4" ry="37.8" fill="url(#gk)" opacity="0.82"/><ellipse cx="5" cy="40" rx="25.4" ry="45.8" fill="url(#gk)" opacity="0.35"/><ellipse cx="5" cy="40" rx="16.2" ry="32.4" fill="url(#gk)" opacity="0.73"/><ellipse cx="28" cy="38" rx="39" ry="22" fill="url(#gk)" opacity="0.35"/><ellipse cx="28" cy="38" rx="27" ry="13.5" fill="url(#gk)" opacity="0.77"/><ellipse cx="18" cy="28" rx="20" ry="16" fill="url(#gk)" opacity="0.60"/><ellipse cx="95" cy="6" rx="45.8" ry="32.2" fill="url(#gk)" opacity="0.35"/><ellipse cx="95" cy="6" rx="32.4" ry="21.6" fill="url(#gk)" opacity="0.80"/><ellipse cx="71" cy="28" rx="32.2" ry="22" fill="url(#gk)" opacity="0.35"/><ellipse cx="71" cy="28" rx="21.6" ry="13.5" fill="url(#gk)" opacity="0.69"/><ellipse cx="85" cy="22" rx="18" ry="14" fill="url(#gk)" opacity="0.50"/><ellipse cx="99" cy="50" rx="16" ry="14" fill="url(#gk)" opacity="0.50"/><ellipse cx="55" cy="40" rx="16" ry="8" fill="url(#gk)" opacity="0.25"/><ellipse cx="55" cy="12" rx="28" ry="20" fill="url(#gw)" opacity="0.12"/><ellipse cx="60" cy="38" rx="18" ry="14" fill="url(#gw)" opacity="0.15"/><ellipse cx="30" cy="68" rx="60" ry="16" fill="url(#gw)" opacity="0.16"/><ellipse cx="80" cy="68" rx="56" ry="16" fill="url(#gw)" opacity="0.12"/><ellipse cx="35" cy="66" rx="40" ry="16" fill="url(#gw)" opacity="0.12"/><ellipse cx="55.6" cy="8" rx="7.7" ry="7.7" fill="url(#gw)" opacity="0.20"/><ellipse cx="55.6" cy="8" rx="4.4" ry="4.4" fill="url(#gs)" opacity="0.06"/><ellipse cx="38" cy="69.5" rx="19.8" ry="8.8" fill="url(#gw)" opacity="0.20"/><ellipse cx="38" cy="69.5" rx="11.2" ry="5" fill="url(#gs)" opacity="0.17"/></g></svg>
<svg x="554.2" y="588" width="108.4" height="75.3"><g filter="url(#jet)"><rect width="108.4" height="75.3" fill="#808080"/><ellipse cx="55" cy="40" rx="52" ry="12" fill="url(#gk)" opacity="0.28"/><ellipse cx="92" cy="44" rx="20" ry="16" fill="url(#gk)" opacity="0.25"/><ellipse cx="9" cy="10" rx="42.4" ry="49.2" fill="url(#gk)" opacity="0.35"/><ellipse cx="9" cy="10" rx="29.7" ry="35.1" fill="url(#gk)" opacity="0.82"/><ellipse cx="3" cy="40" rx="22" ry="45.8" fill="url(#gk)" opacity="0.35"/><ellipse cx="3" cy="40" rx="13.5" ry="32.4" fill="url(#gk)" opacity="0.77"/><ellipse cx="26" cy="35" rx="35.6" ry="22" fill="url(#gk)" opacity="0.35"/><ellipse cx="26" cy="35" rx="24.3" ry="13.5" fill="url(#gk)" opacity="0.65"/><ellipse cx="16" cy="27" rx="20" ry="16" fill="url(#gk)" opacity="0.60"/><ellipse cx="93" cy="5" rx="45.8" ry="25.4" fill="url(#gk)" opacity="0.35"/><ellipse cx="93" cy="5" rx="32.4" ry="16.2" fill="url(#gk)" opacity="0.69"/><ellipse cx="76" cy="27" rx="20" ry="12" fill="url(#gk)" opacity="0.55"/><ellipse cx="75" cy="45" rx="25.4" ry="18.6" fill="url(#gk)" opacity="0.35"/><ellipse cx="75" cy="45" rx="16.2" ry="10.8" fill="url(#gk)" opacity="0.60"/><ellipse cx="62" cy="36" rx="16" ry="10" fill="url(#gk)" opacity="0.35"/><ellipse cx="48" cy="10" rx="32" ry="16" fill="url(#gw)" opacity="0.15"/><ellipse cx="103" cy="30" rx="12" ry="20" fill="url(#gw)" opacity="0.15"/><ellipse cx="30" cy="68" rx="60" ry="16" fill="url(#gw)" opacity="0.16"/><ellipse cx="80" cy="68" rx="56" ry="16" fill="url(#gw)" opacity="0.12"/><ellipse cx="37" cy="69" rx="13.2" ry="6.6" fill="url(#gw)" opacity="0.20"/><ellipse cx="101" cy="68" rx="8.8" ry="8.8" fill="url(#gw)" opacity="0.20"/></g></svg>
<svg x="686.8" y="588" width="108.4" height="75.3"><g filter="url(#jet)"><rect width="108.4" height="75.3" fill="#808080"/><ellipse cx="50" cy="40" rx="52" ry="12" fill="url(#gk)" opacity="0.28"/><ellipse cx="92" cy="44" rx="20" ry="16" fill="url(#gk)" opacity="0.25"/><ellipse cx="8" cy="12" rx="35.6" ry="56" fill="url(#gk)" opacity="0.35"/><ellipse cx="8" cy="12" rx="24.3" ry="40.5" fill="url(#gk)" opacity="0.82"/><ellipse cx="4" cy="45" rx="22" ry="39" fill="url(#gk)" opacity="0.35"/><ellipse cx="4" cy="45" rx="13.5" ry="27" fill="url(#gk)" opacity="0.79"/><ellipse cx="27" cy="37" rx="35.6" ry="20.3" fill="url(#gk)" opacity="0.35"/><ellipse cx="27" cy="37" rx="24.3" ry="12.2" fill="url(#gk)" opacity="0.60"/><ellipse cx="16" cy="30" rx="18" ry="16" fill="url(#gk)" opacity="0.55"/><ellipse cx="97" cy="5" rx="42.4" ry="25.4" fill="url(#gk)" opacity="0.35"/><ellipse cx="97" cy="5" rx="29.7" ry="16.2" fill="url(#gk)" opacity="0.80"/><ellipse cx="65" cy="46" rx="28.8" ry="22" fill="url(#gk)" opacity="0.35"/><ellipse cx="65" cy="46" rx="18.9" ry="13.5" fill="url(#gk)" opacity="0.69"/><ellipse cx="80" cy="50" rx="16" ry="10" fill="url(#gk)" opacity="0.50"/><ellipse cx="72" cy="27" rx="18" ry="12" fill="url(#gk)" opacity="0.40"/><ellipse cx="88" cy="20" rx="14" ry="10" fill="url(#gk)" opacity="0.35"/><ellipse cx="43" cy="9" rx="28" ry="16" fill="url(#gw)" opacity="0.13"/><ellipse cx="103" cy="27.5" rx="12" ry="16" fill="url(#gw)" opacity="0.12"/><ellipse cx="30" cy="68" rx="60" ry="16" fill="url(#gw)" opacity="0.16"/><ellipse cx="80" cy="68" rx="56" ry="16" fill="url(#gw)" opacity="0.12"/><ellipse cx="40" cy="69" rx="13.2" ry="6.6" fill="url(#gw)" opacity="0.20"/><ellipse cx="100.8" cy="67" rx="13.2" ry="12.1" fill="url(#gw)" opacity="0.20"/><ellipse cx="100.8" cy="67" rx="7.5" ry="6.9" fill="url(#gs)" opacity="0.56"/></g></svg>
<svg x="422" y="679.9" width="108.4" height="75.3"><g filter="url(#jet)"><rect width="108.4" height="75.3" fill="#808080"/><ellipse cx="45" cy="34" rx="60" ry="18" fill="url(#gk)" opacity="0.25"/><ellipse cx="85" cy="38" rx="20" ry="16" fill="url(#gk)" opacity="0.20"/><ellipse cx="4" cy="12" rx="28.8" ry="49.2" fill="url(#gk)" opacity="0.35"/><ellipse cx="4" cy="12" rx="18.9" ry="35.1" fill="url(#gk)" opacity="0.80"/><ellipse cx="77" cy="3" rx="52.6" ry="22" fill="url(#gk)" opacity="0.35"/><ellipse cx="77" cy="3" rx="37.8" ry="13.5" fill="url(#gk)" opacity="0.80"/><ellipse cx="50.7" cy="25.3" rx="28.8" ry="25.4" fill="url(#gk)" opacity="0.35"/><ellipse cx="50.7" cy="25.3" rx="18.9" ry="16.2" fill="url(#gk)" opacity="0.80"/><ellipse cx="67.3" cy="38.7" rx="27.1" ry="25.4" fill="url(#gk)" opacity="0.35"/><ellipse cx="67.3" cy="38.7" rx="17.6" ry="16.2" fill="url(#gk)" opacity="0.77"/><ellipse cx="27.3" cy="42" rx="35.6" ry="18.6" fill="url(#gk)" opacity="0.35"/><ellipse cx="27.3" cy="42" rx="24.3" ry="10.8" fill="url(#gk)" opacity="0.60"/><ellipse cx="36" cy="22" rx="14" ry="10" fill="url(#gk)" opacity="0.40"/><ellipse cx="104" cy="5" rx="10" ry="12" fill="url(#gk)" opacity="0.60"/><ellipse cx="10" cy="45" rx="12" ry="10" fill="url(#gk)" opacity="0.40"/><ellipse cx="59" cy="32" rx="12" ry="10" fill="url(#gk)" opacity="0.70"/><ellipse cx="88" cy="30" rx="12" ry="12" fill="url(#gk)" opacity="0.30"/><ellipse cx="35" cy="8" rx="32" ry="12" fill="url(#gw)" opacity="0.15"/><ellipse cx="20" cy="26" rx="16" ry="12" fill="url(#gw)" opacity="0.12"/><ellipse cx="30" cy="68" rx="60" ry="16" fill="url(#gw)" opacity="0.16"/><ellipse cx="80" cy="68" rx="56" ry="16" fill="url(#gw)" opacity="0.12"/><ellipse cx="88" cy="50" rx="24" ry="16" fill="url(#gw)" opacity="0.15"/><ellipse cx="104" cy="28" rx="8.8" ry="8.8" fill="url(#gw)" opacity="0.20"/><ellipse cx="37.3" cy="68" rx="16.5" ry="7.7" fill="url(#gw)" opacity="0.20"/><ellipse cx="37.3" cy="68" rx="9.4" ry="4.4" fill="url(#gs)" opacity="0.11"/><ellipse cx="97.3" cy="68" rx="16.5" ry="11" fill="url(#gw)" opacity="0.20"/><ellipse cx="97.3" cy="68" rx="9.4" ry="6.2" fill="url(#gs)" opacity="0.78"/></g></svg>
<svg x="554.2" y="679.9" width="108.4" height="75.3"><g filter="url(#jet)"><rect width="108.4" height="75.3" fill="#808080"/><ellipse cx="42" cy="34" rx="60" ry="18" fill="url(#gk)" opacity="0.25"/><ellipse cx="85" cy="40" rx="20" ry="16" fill="url(#gk)" opacity="0.20"/><ellipse cx="4" cy="12" rx="25.4" ry="45.8" fill="url(#gk)" opacity="0.35"/><ellipse cx="4" cy="12" rx="16.2" ry="32.4" fill="url(#gk)" opacity="0.77"/><ellipse cx="80" cy="3" rx="59.4" ry="20.3" fill="url(#gk)" opacity="0.35"/><ellipse cx="80" cy="3" rx="43.2" ry="12.2" fill="url(#gk)" opacity="0.80"/><ellipse cx="43" cy="25.7" rx="28.8" ry="25.4" fill="url(#gk)" opacity="0.35"/><ellipse cx="43" cy="25.7" rx="18.9" ry="16.2" fill="url(#gk)" opacity="0.80"/><ellipse cx="64" cy="37" rx="25.4" ry="23.7" fill="url(#gk)" opacity="0.35"/><ellipse cx="64" cy="37" rx="16.2" ry="14.9" fill="url(#gk)" opacity="0.73"/><ellipse cx="24" cy="41" rx="39" ry="16.9" fill="url(#gk)" opacity="0.35"/><ellipse cx="24" cy="41" rx="27" ry="9.5" fill="url(#gk)" opacity="0.56"/><ellipse cx="53" cy="31" rx="12" ry="10" fill="url(#gk)" opacity="0.70"/><ellipse cx="104" cy="6" rx="10" ry="12" fill="url(#gk)" opacity="0.50"/><ellipse cx="30" cy="22" rx="12" ry="8" fill="url(#gk)" opacity="0.35"/><ellipse cx="78" cy="24" rx="12" ry="10" fill="url(#gk)" opacity="0.30"/><ellipse cx="37" cy="9" rx="32" ry="14" fill="url(#gw)" opacity="0.15"/><ellipse cx="18" cy="26" rx="16" ry="12" fill="url(#gw)" opacity="0.12"/><ellipse cx="30" cy="68" rx="60" ry="16" fill="url(#gw)" opacity="0.16"/><ellipse cx="80" cy="68" rx="56" ry="16" fill="url(#gw)" opacity="0.12"/><ellipse cx="88" cy="48" rx="24" ry="16" fill="url(#gw)" opacity="0.15"/><ellipse cx="97" cy="19.4" rx="8.8" ry="13.2" fill="url(#gw)" opacity="0.20" transform="rotate(20 97 19.4)"/><ellipse cx="103" cy="29" rx="11" ry="9.9" fill="url(#gw)" opacity="0.20"/><ellipse cx="103" cy="29" rx="6.2" ry="5.6" fill="url(#gs)" opacity="0.33"/><ellipse cx="38.5" cy="67.5" rx="19.8" ry="8.8" fill="url(#gw)" opacity="0.20"/><ellipse cx="38.5" cy="67.5" rx="11.2" ry="5" fill="url(#gs)" opacity="0.11"/><ellipse cx="61.6" cy="68.4" rx="11" ry="8.8" fill="url(#gw)" opacity="0.20"/><ellipse cx="61.6" cy="68.4" rx="6.2" ry="5" fill="url(#gs)" opacity="0.11"/><ellipse cx="97.6" cy="67.5" rx="17.6" ry="12.1" fill="url(#gw)" opacity="0.20"/><ellipse cx="97.6" cy="67.5" rx="10" ry="6.9" fill="url(#gs)" opacity="0.81"/></g></svg>
<svg x="686.8" y="679.9" width="108.4" height="75.3"><g filter="url(#jet)"><rect width="108.4" height="75.3" fill="#808080"/><ellipse cx="40" cy="34" rx="60" ry="18" fill="url(#gk)" opacity="0.25"/><ellipse cx="82" cy="40" rx="20" ry="16" fill="url(#gk)" opacity="0.20"/><ellipse cx="4" cy="10" rx="25.4" ry="39" fill="url(#gk)" opacity="0.35"/><ellipse cx="4" cy="10" rx="16.2" ry="27" fill="url(#gk)" opacity="0.77"/><ellipse cx="73" cy="3" rx="56" ry="20.3" fill="url(#gk)" opacity="0.35"/><ellipse cx="73" cy="3" rx="40.5" ry="12.2" fill="url(#gk)" opacity="0.80"/><ellipse cx="37" cy="24" rx="28.8" ry="25.4" fill="url(#gk)" opacity="0.35"/><ellipse cx="37" cy="24" rx="18.9" ry="16.2" fill="url(#gk)" opacity="0.80"/><ellipse cx="52.8" cy="33.6" rx="25.4" ry="22" fill="url(#gk)" opacity="0.35"/><ellipse cx="52.8" cy="33.6" rx="16.2" ry="13.5" fill="url(#gk)" opacity="0.60"/><ellipse cx="23" cy="41" rx="35.6" ry="16.9" fill="url(#gk)" opacity="0.35"/><ellipse cx="23" cy="41" rx="24.3" ry="9.5" fill="url(#gk)" opacity="0.56"/><ellipse cx="105" cy="5" rx="10" ry="16" fill="url(#gk)" opacity="0.75"/><ellipse cx="28" cy="18" rx="12" ry="8" fill="url(#gk)" opacity="0.35"/><ellipse cx="45" cy="30" rx="12" ry="10" fill="url(#gk)" opacity="0.60"/><ellipse cx="70" cy="26" rx="12" ry="10" fill="url(#gk)" opacity="0.30"/><ellipse cx="30" cy="8" rx="28" ry="12" fill="url(#gw)" opacity="0.15"/><ellipse cx="16" cy="26" rx="16" ry="12" fill="url(#gw)" opacity="0.12"/><ellipse cx="30" cy="68" rx="60" ry="16" fill="url(#gw)" opacity="0.16"/><ellipse cx="80" cy="68" rx="56" ry="16" fill="url(#gw)" opacity="0.12"/><ellipse cx="85" cy="46" rx="24" ry="16" fill="url(#gw)" opacity="0.15"/><ellipse cx="93" cy="14.7" rx="7.7" ry="12.1" fill="url(#gw)" opacity="0.20"/><ellipse cx="98.6" cy="28" rx="12.1" ry="11" fill="url(#gw)" opacity="0.20"/><ellipse cx="98.6" cy="28" rx="6.9" ry="6.2" fill="url(#gs)" opacity="0.31"/><ellipse cx="25" cy="67.5" rx="24" ry="4" fill="url(#gw)" opacity="0.12"/><ellipse cx="43" cy="67.5" rx="19.8" ry="7.7" fill="url(#gw)" opacity="0.20"/><ellipse cx="43" cy="67.5" rx="11.2" ry="4.4" fill="url(#gs)" opacity="0.11"/><ellipse cx="61.6" cy="68.4" rx="17.6" ry="8.8" fill="url(#gw)" opacity="0.20"/><ellipse cx="61.6" cy="68.4" rx="10" ry="5" fill="url(#gs)" opacity="0.39"/><ellipse cx="97" cy="67.5" rx="16.5" ry="9.9" fill="url(#gw)" opacity="0.20"/><ellipse cx="97" cy="67.5" rx="9.4" ry="5.6" fill="url(#gs)" opacity="0.39"/></g></svg>
<svg x="422" y="772" width="108.4" height="60.9"><g filter="url(#jet)"><rect width="108.4" height="75.3" fill="#808080"/><ellipse cx="45" cy="36" rx="60" ry="18" fill="url(#gk)" opacity="0.25"/><ellipse cx="82" cy="42" rx="20" ry="14" fill="url(#gk)" opacity="0.20"/><ellipse cx="57" cy="2" rx="73" ry="18.6" fill="url(#gk)" opacity="0.35"/><ellipse cx="57" cy="2" rx="54" ry="10.8" fill="url(#gk)" opacity="0.80"/><ellipse cx="103" cy="8" rx="25.4" ry="39" fill="url(#gk)" opacity="0.35"/><ellipse cx="103" cy="8" rx="16.2" ry="27" fill="url(#gk)" opacity="0.77"/><ellipse cx="30.7" cy="25" rx="32.2" ry="28.8" fill="url(#gk)" opacity="0.35"/><ellipse cx="30.7" cy="25" rx="21.6" ry="18.9" fill="url(#gk)" opacity="0.80"/><ellipse cx="54" cy="33.3" rx="16" ry="10" fill="url(#gk)" opacity="0.55"/><ellipse cx="37.3" cy="43.3" rx="25.4" ry="22" fill="url(#gk)" opacity="0.35"/><ellipse cx="37.3" cy="43.3" rx="16.2" ry="13.5" fill="url(#gk)" opacity="0.73"/><ellipse cx="104" cy="43.3" rx="22" ry="28.8" fill="url(#gk)" opacity="0.35"/><ellipse cx="104" cy="43.3" rx="13.5" ry="18.9" fill="url(#gk)" opacity="0.73"/><ellipse cx="8" cy="44" rx="16" ry="12" fill="url(#gk)" opacity="0.50"/><ellipse cx="4" cy="8" rx="10" ry="14" fill="url(#gk)" opacity="0.50"/><ellipse cx="70" cy="42" rx="14" ry="10" fill="url(#gk)" opacity="0.40"/><ellipse cx="45" cy="34" rx="12" ry="10" fill="url(#gk)" opacity="0.50"/><ellipse cx="20" cy="8" rx="28" ry="12" fill="url(#gw)" opacity="0.15"/><ellipse cx="75" cy="24" rx="20" ry="16" fill="url(#gw)" opacity="0.12"/><ellipse cx="12" cy="28" rx="16" ry="16" fill="url(#gw)" opacity="0.12"/><ellipse cx="86.7" cy="12.7" rx="8.8" ry="15.4" fill="url(#gw)" opacity="0.20" transform="rotate(25 86.7 12.7)"/><ellipse cx="95.7" cy="28.3" rx="9.9" ry="8.8" fill="url(#gw)" opacity="0.20"/><ellipse cx="95.7" cy="28.3" rx="5.6" ry="5" fill="url(#gs)" opacity="0.11"/><ellipse cx="50" cy="68" rx="80" ry="14" fill="url(#gw)" opacity="0.18"/><ellipse cx="37" cy="69" rx="22" ry="9.9" fill="url(#gw)" opacity="0.20"/><ellipse cx="37" cy="69" rx="12.5" ry="5.6" fill="url(#gs)" opacity="0.08"/><ellipse cx="58" cy="69" rx="19.8" ry="11" fill="url(#gw)" opacity="0.20"/><ellipse cx="58" cy="69" rx="11.2" ry="6.2" fill="url(#gs)" opacity="1.00"/><ellipse cx="88" cy="68.5" rx="19.8" ry="11" fill="url(#gw)" opacity="0.20"/></g></svg><svg x="425" y="832.9" width="108.4" height="14" viewBox="0 60.9 108.4 14"><g filter="url(#gl)"><rect width="108.4" height="75.3" fill="#808080"/><ellipse cx="45" cy="36" rx="60" ry="18" fill="url(#gk)" opacity="0.25"/><ellipse cx="82" cy="42" rx="20" ry="14" fill="url(#gk)" opacity="0.20"/><ellipse cx="57" cy="2" rx="73" ry="18.6" fill="url(#gk)" opacity="0.35"/><ellipse cx="57" cy="2" rx="54" ry="10.8" fill="url(#gk)" opacity="0.80"/><ellipse cx="103" cy="8" rx="25.4" ry="39" fill="url(#gk)" opacity="0.35"/><ellipse cx="103" cy="8" rx="16.2" ry="27" fill="url(#gk)" opacity="0.77"/><ellipse cx="30.7" cy="25" rx="32.2" ry="28.8" fill="url(#gk)" opacity="0.35"/><ellipse cx="30.7" cy="25" rx="21.6" ry="18.9" fill="url(#gk)" opacity="0.80"/><ellipse cx="54" cy="33.3" rx="16" ry="10" fill="url(#gk)" opacity="0.55"/><ellipse cx="37.3" cy="43.3" rx="25.4" ry="22" fill="url(#gk)" opacity="0.35"/><ellipse cx="37.3" cy="43.3" rx="16.2" ry="13.5" fill="url(#gk)" opacity="0.73"/><ellipse cx="104" cy="43.3" rx="22" ry="28.8" fill="url(#gk)" opacity="0.35"/><ellipse cx="104" cy="43.3" rx="13.5" ry="18.9" fill="url(#gk)" opacity="0.73"/><ellipse cx="8" cy="44" rx="16" ry="12" fill="url(#gk)" opacity="0.50"/><ellipse cx="4" cy="8" rx="10" ry="14" fill="url(#gk)" opacity="0.50"/><ellipse cx="70" cy="42" rx="14" ry="10" fill="url(#gk)" opacity="0.40"/><ellipse cx="45" cy="34" rx="12" ry="10" fill="url(#gk)" opacity="0.50"/><ellipse cx="20" cy="8" rx="28" ry="12" fill="url(#gw)" opacity="0.15"/><ellipse cx="75" cy="24" rx="20" ry="16" fill="url(#gw)" opacity="0.12"/><ellipse cx="12" cy="28" rx="16" ry="16" fill="url(#gw)" opacity="0.12"/><ellipse cx="86.7" cy="12.7" rx="8.8" ry="15.4" fill="url(#gw)" opacity="0.20" transform="rotate(25 86.7 12.7)"/><ellipse cx="95.7" cy="28.3" rx="9.9" ry="8.8" fill="url(#gw)" opacity="0.20"/><ellipse cx="95.7" cy="28.3" rx="5.6" ry="5" fill="url(#gs)" opacity="0.11"/><ellipse cx="50" cy="68" rx="80" ry="14" fill="url(#gw)" opacity="0.18"/><ellipse cx="37" cy="69" rx="22" ry="9.9" fill="url(#gw)" opacity="0.20"/><ellipse cx="37" cy="69" rx="12.5" ry="5.6" fill="url(#gs)" opacity="0.08"/><ellipse cx="58" cy="69" rx="19.8" ry="11" fill="url(#gw)" opacity="0.20"/><ellipse cx="58" cy="69" rx="11.2" ry="6.2" fill="url(#gs)" opacity="1.00"/><ellipse cx="88" cy="68.5" rx="19.8" ry="11" fill="url(#gw)" opacity="0.20"/></g></svg>
<svg x="554.2" y="772" width="108.4" height="60.9"><g filter="url(#jet)"><rect width="108.4" height="75.3" fill="#808080"/><ellipse cx="45" cy="36" rx="60" ry="18" fill="url(#gk)" opacity="0.25"/><ellipse cx="80" cy="42" rx="20" ry="14" fill="url(#gk)" opacity="0.20"/><ellipse cx="57" cy="2" rx="73" ry="22" fill="url(#gk)" opacity="0.35"/><ellipse cx="57" cy="2" rx="54" ry="13.5" fill="url(#gk)" opacity="0.80"/><ellipse cx="103" cy="8" rx="28.8" ry="39" fill="url(#gk)" opacity="0.35"/><ellipse cx="103" cy="8" rx="18.9" ry="27" fill="url(#gk)" opacity="0.79"/><ellipse cx="38.3" cy="25" rx="28.8" ry="28.8" fill="url(#gk)" opacity="0.35"/><ellipse cx="38.3" cy="25" rx="18.9" ry="18.9" fill="url(#gk)" opacity="0.80"/><ellipse cx="58.3" cy="33.3" rx="16" ry="10" fill="url(#gk)" opacity="0.55"/><ellipse cx="41.7" cy="46.7" rx="16" ry="10" fill="url(#gk)" opacity="0.60"/><ellipse cx="101.7" cy="43.3" rx="22" ry="42.4" fill="url(#gk)" opacity="0.35"/><ellipse cx="101.7" cy="43.3" rx="13.5" ry="29.7" fill="url(#gk)" opacity="0.77"/><ellipse cx="8" cy="44" rx="16" ry="12" fill="url(#gk)" opacity="0.50"/><ellipse cx="4" cy="8" rx="10" ry="14" fill="url(#gk)" opacity="0.60"/><ellipse cx="20" cy="14" rx="12" ry="10" fill="url(#gk)" opacity="0.30"/><ellipse cx="48" cy="34" rx="12" ry="10" fill="url(#gk)" opacity="0.50"/><ellipse cx="20" cy="8" rx="28" ry="12" fill="url(#gw)" opacity="0.15"/><ellipse cx="72" cy="24" rx="20" ry="16" fill="url(#gw)" opacity="0.12"/><ellipse cx="14" cy="28" rx="16" ry="16" fill="url(#gw)" opacity="0.12"/><ellipse cx="81.7" cy="11.7" rx="8.8" ry="13.2" fill="url(#gw)" opacity="0.20" transform="rotate(20 81.7 11.7)"/><ellipse cx="54" cy="72" rx="120" ry="16" fill="url(#gw)" opacity="0.40"/><ellipse cx="52" cy="68" rx="60" ry="12" fill="url(#gw)" opacity="0.10"/><ellipse cx="40" cy="68.5" rx="24.2" ry="9.9" fill="url(#gw)" opacity="0.20"/><ellipse cx="40" cy="68.5" rx="13.8" ry="5.6" fill="url(#gs)" opacity="1.00"/><ellipse cx="60" cy="69" rx="22" ry="9.9" fill="url(#gw)" opacity="0.20"/></g></svg><svg x="557.2" y="832.9" width="108.4" height="14" viewBox="0 60.9 108.4 14"><g filter="url(#gl)"><rect width="108.4" height="75.3" fill="#808080"/><ellipse cx="45" cy="36" rx="60" ry="18" fill="url(#gk)" opacity="0.25"/><ellipse cx="80" cy="42" rx="20" ry="14" fill="url(#gk)" opacity="0.20"/><ellipse cx="57" cy="2" rx="73" ry="22" fill="url(#gk)" opacity="0.35"/><ellipse cx="57" cy="2" rx="54" ry="13.5" fill="url(#gk)" opacity="0.80"/><ellipse cx="103" cy="8" rx="28.8" ry="39" fill="url(#gk)" opacity="0.35"/><ellipse cx="103" cy="8" rx="18.9" ry="27" fill="url(#gk)" opacity="0.79"/><ellipse cx="38.3" cy="25" rx="28.8" ry="28.8" fill="url(#gk)" opacity="0.35"/><ellipse cx="38.3" cy="25" rx="18.9" ry="18.9" fill="url(#gk)" opacity="0.80"/><ellipse cx="58.3" cy="33.3" rx="16" ry="10" fill="url(#gk)" opacity="0.55"/><ellipse cx="41.7" cy="46.7" rx="16" ry="10" fill="url(#gk)" opacity="0.60"/><ellipse cx="101.7" cy="43.3" rx="22" ry="42.4" fill="url(#gk)" opacity="0.35"/><ellipse cx="101.7" cy="43.3" rx="13.5" ry="29.7" fill="url(#gk)" opacity="0.77"/><ellipse cx="8" cy="44" rx="16" ry="12" fill="url(#gk)" opacity="0.50"/><ellipse cx="4" cy="8" rx="10" ry="14" fill="url(#gk)" opacity="0.60"/><ellipse cx="20" cy="14" rx="12" ry="10" fill="url(#gk)" opacity="0.30"/><ellipse cx="48" cy="34" rx="12" ry="10" fill="url(#gk)" opacity="0.50"/><ellipse cx="20" cy="8" rx="28" ry="12" fill="url(#gw)" opacity="0.15"/><ellipse cx="72" cy="24" rx="20" ry="16" fill="url(#gw)" opacity="0.12"/><ellipse cx="14" cy="28" rx="16" ry="16" fill="url(#gw)" opacity="0.12"/><ellipse cx="81.7" cy="11.7" rx="8.8" ry="13.2" fill="url(#gw)" opacity="0.20" transform="rotate(20 81.7 11.7)"/><ellipse cx="54" cy="72" rx="120" ry="16" fill="url(#gw)" opacity="0.40"/><ellipse cx="52" cy="68" rx="60" ry="12" fill="url(#gw)" opacity="0.10"/><ellipse cx="40" cy="68.5" rx="24.2" ry="9.9" fill="url(#gw)" opacity="0.20"/><ellipse cx="40" cy="68.5" rx="13.8" ry="5.6" fill="url(#gs)" opacity="1.00"/><ellipse cx="60" cy="69" rx="22" ry="9.9" fill="url(#gw)" opacity="0.20"/></g></svg>
<svg x="686.8" y="772" width="108.4" height="60.9"><g filter="url(#jet)"><rect width="108.4" height="75.3" fill="#808080"/><ellipse cx="45" cy="36" rx="60" ry="18" fill="url(#gk)" opacity="0.25"/><ellipse cx="80" cy="42" rx="20" ry="14" fill="url(#gk)" opacity="0.20"/><ellipse cx="54" cy="2" rx="66.2" ry="18.6" fill="url(#gk)" opacity="0.35"/><ellipse cx="54" cy="2" rx="48.6" ry="10.8" fill="url(#gk)" opacity="0.80"/><ellipse cx="102" cy="14" rx="28.8" ry="59.4" fill="url(#gk)" opacity="0.35"/><ellipse cx="102" cy="14" rx="18.9" ry="43.2" fill="url(#gk)" opacity="0.79"/><ellipse cx="36" cy="23.3" rx="28.8" ry="28.8" fill="url(#gk)" opacity="0.35"/><ellipse cx="36" cy="23.3" rx="18.9" ry="18.9" fill="url(#gk)" opacity="0.80"/><ellipse cx="50" cy="33.3" rx="16" ry="10" fill="url(#gk)" opacity="0.55"/><ellipse cx="102.7" cy="46.7" rx="22" ry="28.8" fill="url(#gk)" opacity="0.35"/><ellipse cx="102.7" cy="46.7" rx="13.5" ry="18.9" fill="url(#gk)" opacity="0.69"/><ellipse cx="6" cy="46.7" rx="14" ry="12" fill="url(#gk)" opacity="0.50"/><ellipse cx="4" cy="8" rx="10" ry="14" fill="url(#gk)" opacity="0.50"/><ellipse cx="66" cy="44" rx="14" ry="10" fill="url(#gk)" opacity="0.35"/><ellipse cx="2" cy="69" rx="14" ry="10" fill="url(#gk)" opacity="0.75"/><ellipse cx="104" cy="69" rx="16" ry="10" fill="url(#gk)" opacity="0.75"/><ellipse cx="44" cy="32" rx="12" ry="10" fill="url(#gk)" opacity="0.50"/><ellipse cx="18" cy="8" rx="28" ry="12" fill="url(#gw)" opacity="0.15"/><ellipse cx="70" cy="24" rx="20" ry="16" fill="url(#gw)" opacity="0.12"/><ellipse cx="14" cy="28" rx="16" ry="16" fill="url(#gw)" opacity="0.12"/><ellipse cx="77.7" cy="10" rx="11" ry="8.8" fill="url(#gw)" opacity="0.20"/><ellipse cx="20" cy="56" rx="11" ry="7.7" fill="url(#gw)" opacity="0.20"/><ellipse cx="20" cy="56" rx="6.2" ry="4.4" fill="url(#gs)" opacity="0.11"/><ellipse cx="55" cy="68" rx="56" ry="14" fill="url(#gw)" opacity="0.18"/><ellipse cx="40" cy="69" rx="22" ry="11" fill="url(#gw)" opacity="0.20"/><ellipse cx="40" cy="69" rx="12.5" ry="6.2" fill="url(#gs)" opacity="1.00"/><ellipse cx="70" cy="69.5" rx="22" ry="8.8" fill="url(#gw)" opacity="0.20"/></g></svg><svg x="689.8" y="832.9" width="108.4" height="14" viewBox="0 60.9 108.4 14"><g filter="url(#gl)"><rect width="108.4" height="75.3" fill="#808080"/><ellipse cx="45" cy="36" rx="60" ry="18" fill="url(#gk)" opacity="0.25"/><ellipse cx="80" cy="42" rx="20" ry="14" fill="url(#gk)" opacity="0.20"/><ellipse cx="54" cy="2" rx="66.2" ry="18.6" fill="url(#gk)" opacity="0.35"/><ellipse cx="54" cy="2" rx="48.6" ry="10.8" fill="url(#gk)" opacity="0.80"/><ellipse cx="102" cy="14" rx="28.8" ry="59.4" fill="url(#gk)" opacity="0.35"/><ellipse cx="102" cy="14" rx="18.9" ry="43.2" fill="url(#gk)" opacity="0.79"/><ellipse cx="36" cy="23.3" rx="28.8" ry="28.8" fill="url(#gk)" opacity="0.35"/><ellipse cx="36" cy="23.3" rx="18.9" ry="18.9" fill="url(#gk)" opacity="0.80"/><ellipse cx="50" cy="33.3" rx="16" ry="10" fill="url(#gk)" opacity="0.55"/><ellipse cx="102.7" cy="46.7" rx="22" ry="28.8" fill="url(#gk)" opacity="0.35"/><ellipse cx="102.7" cy="46.7" rx="13.5" ry="18.9" fill="url(#gk)" opacity="0.69"/><ellipse cx="6" cy="46.7" rx="14" ry="12" fill="url(#gk)" opacity="0.50"/><ellipse cx="4" cy="8" rx="10" ry="14" fill="url(#gk)" opacity="0.50"/><ellipse cx="66" cy="44" rx="14" ry="10" fill="url(#gk)" opacity="0.35"/><ellipse cx="2" cy="69" rx="14" ry="10" fill="url(#gk)" opacity="0.75"/><ellipse cx="104" cy="69" rx="16" ry="10" fill="url(#gk)" opacity="0.75"/><ellipse cx="44" cy="32" rx="12" ry="10" fill="url(#gk)" opacity="0.50"/><ellipse cx="18" cy="8" rx="28" ry="12" fill="url(#gw)" opacity="0.15"/><ellipse cx="70" cy="24" rx="20" ry="16" fill="url(#gw)" opacity="0.12"/><ellipse cx="14" cy="28" rx="16" ry="16" fill="url(#gw)" opacity="0.12"/><ellipse cx="77.7" cy="10" rx="11" ry="8.8" fill="url(#gw)" opacity="0.20"/><ellipse cx="20" cy="56" rx="11" ry="7.7" fill="url(#gw)" opacity="0.20"/><ellipse cx="20" cy="56" rx="6.2" ry="4.4" fill="url(#gs)" opacity="0.11"/><ellipse cx="55" cy="68" rx="56" ry="14" fill="url(#gw)" opacity="0.18"/><ellipse cx="40" cy="69" rx="22" ry="11" fill="url(#gw)" opacity="0.20"/><ellipse cx="40" cy="69" rx="12.5" ry="6.2" fill="url(#gs)" opacity="1.00"/><ellipse cx="70" cy="69.5" rx="22" ry="8.8" fill="url(#gw)" opacity="0.20"/></g></svg>
<svg x="424.8" y="864.5" width="108.4" height="75.3"><g filter="url(#gl)"><rect width="108.4" height="75.3" fill="#808080"/><ellipse cx="12" cy="29" rx="42.4" ry="35.6" fill="url(#gk)" opacity="0.35"/><ellipse cx="12" cy="29" rx="29.7" ry="24.3" fill="url(#gk)" opacity="0.82"/><ellipse cx="30" cy="19" rx="35.6" ry="22" fill="url(#gk)" opacity="0.35"/><ellipse cx="30" cy="19" rx="24.3" ry="13.5" fill="url(#gk)" opacity="0.73"/><ellipse cx="42" cy="27" rx="14" ry="12" fill="url(#gk)" opacity="0.50"/><ellipse cx="2" cy="44" rx="18.6" ry="25.4" fill="url(#gk)" opacity="0.35"/><ellipse cx="2" cy="44" rx="10.8" ry="16.2" fill="url(#gk)" opacity="0.60"/><ellipse cx="99" cy="5" rx="39" ry="28.8" fill="url(#gk)" opacity="0.35"/><ellipse cx="99" cy="5" rx="27" ry="18.9" fill="url(#gk)" opacity="0.80"/><ellipse cx="101" cy="43" rx="32.2" ry="42.4" fill="url(#gk)" opacity="0.35"/><ellipse cx="101" cy="43" rx="21.6" ry="29.7" fill="url(#gk)" opacity="0.82"/><ellipse cx="88" cy="30" rx="16" ry="14" fill="url(#gk)" opacity="0.50"/><ellipse cx="77" cy="36" rx="16" ry="10" fill="url(#gk)" opacity="0.50"/><ellipse cx="60" cy="40" rx="20" ry="8" fill="url(#gk)" opacity="0.25"/><ellipse cx="70" cy="14" rx="32" ry="18" fill="url(#gw)" opacity="0.16"/><ellipse cx="28" cy="5" rx="48" ry="8" fill="url(#gw)" opacity="0.15"/><ellipse cx="4" cy="4" rx="12" ry="10" fill="url(#gw)" opacity="0.18"/><ellipse cx="30" cy="68" rx="60" ry="16" fill="url(#gw)" opacity="0.16"/><ellipse cx="80" cy="68" rx="56" ry="16" fill="url(#gw)" opacity="0.12"/><ellipse cx="77" cy="64" rx="20" ry="12" fill="url(#gw)" opacity="0.12"/><ellipse cx="70.7" cy="9" rx="11" ry="11" fill="url(#gw)" opacity="0.20"/><ellipse cx="70.7" cy="9" rx="6.2" ry="6.2" fill="url(#gs)" opacity="0.11"/><ellipse cx="15.7" cy="57.3" rx="15.4" ry="15.4" fill="url(#gw)" opacity="0.20"/><ellipse cx="15.7" cy="57.3" rx="8.8" ry="8.8" fill="url(#gs)" opacity="0.67"/><ellipse cx="39" cy="68.3" rx="26.4" ry="14.3" fill="url(#gw)" opacity="0.20"/><ellipse cx="39" cy="68.3" rx="15" ry="8.1" fill="url(#gs)" opacity="1.00"/></g></svg>
<text x="62.2" y="94.4" font-size="15.2" text-anchor="middle"><tspan class="i">Φ</tspan><tspan font-size="9" dy="1.9">2</tspan><tspan dy="-1.9">=0°</tspan></text><text x="193.2" y="94.4" font-size="15.2" text-anchor="middle">Φ2=5°</text><text x="329.9" y="94.4" font-size="15.2" text-anchor="middle"><tspan class="i">Φ</tspan><tspan font-size="9" dy="1.9">2</tspan><tspan dy="-1.9">=10°</tspan></text><text x="65.9" y="186.6" font-size="15.2" text-anchor="middle"><tspan class="i">Φ</tspan><tspan font-size="9" dy="1.9">2</tspan><tspan dy="-1.9">=15°</tspan></text><text x="197.4" y="186.6" font-size="15.2" text-anchor="middle"><tspan class="i">Φ</tspan><tspan font-size="9" dy="1.9">2</tspan><tspan dy="-1.9">=20°</tspan></text><text x="329.6" y="186.6" font-size="15.2" text-anchor="middle"><tspan class="i">Φ</tspan><tspan font-size="9" dy="1.9">2</tspan><tspan dy="-1.9">=25°</tspan></text><text x="62.4" y="278.5" font-size="15.2" text-anchor="middle"><tspan class="i">Φ</tspan><tspan font-size="9" dy="1.9">2</tspan><tspan dy="-1.9">=30°</tspan></text><text x="196.4" y="278.5" font-size="15.2" text-anchor="middle"><tspan class="i">Φ</tspan><tspan font-size="9" dy="1.9">2</tspan><tspan dy="-1.9">=35°</tspan></text><text x="329.1" y="278.5" font-size="15.2" text-anchor="middle"><tspan class="i">Φ</tspan><tspan font-size="9" dy="1.9">2</tspan><tspan dy="-1.9">=40°</tspan></text><text x="62.4" y="370.4" font-size="15.2" text-anchor="middle"><tspan class="i">Φ</tspan><tspan font-size="9" dy="1.9">2</tspan><tspan dy="-1.9">=45°</tspan></text><text x="196.2" y="370.4" font-size="15.2" text-anchor="middle"><tspan class="i">Φ</tspan><tspan font-size="9" dy="1.9">2</tspan><tspan dy="-1.9">=50°</tspan></text><text x="329.9" y="371.6" font-size="15.2" text-anchor="middle"><tspan class="i">Φ</tspan><tspan font-size="9" dy="1.9">2</tspan><tspan dy="-1.9">=55°</tspan></text><text x="58.6" y="463.5" font-size="15.2" text-anchor="middle"><tspan class="i">Φ</tspan><tspan font-size="9" dy="1.9">2</tspan><tspan dy="-1.9">=60°</tspan></text><text x="479.7" y="94.4" font-size="15.2" text-anchor="middle"><tspan class="i">Φ</tspan><tspan font-size="9" dy="1.9">2</tspan><tspan dy="-1.9">=0°</tspan></text><text x="610.7" y="94.4" font-size="15.2" text-anchor="middle"><tspan class="i">Φ</tspan><tspan font-size="9" dy="1.9">2</tspan><tspan dy="-1.9">=5°</tspan></text><text x="747.3" y="94.4" font-size="15.2" text-anchor="middle"><tspan class="i">Φ</tspan><tspan font-size="9" dy="1.9">2</tspan><tspan dy="-1.9">=10°</tspan></text><text x="482.9" y="186.6" font-size="15.2" text-anchor="middle"><tspan class="i">Φ</tspan><tspan font-size="9" dy="1.9">2</tspan><tspan dy="-1.9">=15°</tspan></text><text x="615.4" y="186.6" font-size="15.2" text-anchor="middle"><tspan class="i">Φ</tspan><tspan font-size="9" dy="1.9">2</tspan><tspan dy="-1.9">=20°</tspan></text><text x="747.4" y="186.6" font-size="15.2" text-anchor="middle"><tspan class="i">Φ</tspan><tspan font-size="9" dy="1.9">2</tspan><tspan dy="-1.9">=25°</tspan></text><text x="479.1" y="278.5" font-size="15.2" text-anchor="middle"><tspan class="i">Φ</tspan><tspan font-size="9" dy="1.9">2</tspan><tspan dy="-1.9">=30°</tspan></text><text x="614.4" y="278.5" font-size="15.2" text-anchor="middle"><tspan class="i">Φ</tspan><tspan font-size="9" dy="1.9">2</tspan><tspan dy="-1.9">=35°</tspan></text><text x="746.9" y="278.5" font-size="15.2" text-anchor="middle"><tspan class="i">Φ</tspan><tspan font-size="9" dy="1.9">2</tspan><tspan dy="-1.9">=40°</tspan></text><text x="479.1" y="370.4" font-size="15.2" text-anchor="middle"><tspan class="i">Φ</tspan><tspan font-size="9" dy="1.9">2</tspan><tspan dy="-1.9">=45°</tspan></text><text x="613.9" y="370.4" font-size="15.2" text-anchor="middle"><tspan class="i">Φ</tspan><tspan font-size="9" dy="1.9">2</tspan><tspan dy="-1.9">=50°</tspan></text><text x="747.9" y="371.6" font-size="15.2" text-anchor="middle"><tspan class="i">Φ</tspan><tspan font-size="9" dy="1.9">2</tspan><tspan dy="-1.9">=55°</tspan></text><text x="477.4" y="463.5" font-size="15.2" text-anchor="middle"><tspan class="i">Φ</tspan><tspan font-size="9" dy="1.9">2</tspan><tspan dy="-1.9">=60°</tspan></text><text x="62.1" y="583.8" font-size="15.2" text-anchor="middle"><tspan class="i">Φ</tspan><tspan font-size="9" dy="1.9">2</tspan><tspan dy="-1.9">=0°</tspan></text><text x="193.2" y="583.8" font-size="15.2" text-anchor="middle"><tspan class="i">Φ</tspan><tspan font-size="9" dy="1.9">2</tspan><tspan dy="-1.9">=5°</tspan></text><text x="329.9" y="583.8" font-size="15.2" text-anchor="middle"><tspan class="i">Φ</tspan><tspan font-size="9" dy="1.9">2</tspan><tspan dy="-1.9">=10°</tspan></text><text x="65.9" y="676.2" font-size="15.2" text-anchor="middle"><tspan class="i">Φ</tspan><tspan font-size="9" dy="1.9">2</tspan><tspan dy="-1.9">=15°</tspan></text><text x="197.4" y="676.2" font-size="15.2" text-anchor="middle"><tspan class="i">Φ</tspan><tspan font-size="9" dy="1.9">2</tspan><tspan dy="-1.9">=20°</tspan></text><text x="329.9" y="676.2" font-size="15.2" text-anchor="middle"><tspan class="i">Φ</tspan><tspan font-size="9" dy="1.9">2</tspan><tspan dy="-1.9">=25°</tspan></text><text x="62.4" y="768.1" font-size="15.2" text-anchor="middle"><tspan class="i">Φ</tspan><tspan font-size="9" dy="1.9">2</tspan><tspan dy="-1.9">=30°</tspan></text><text x="196.4" y="768.1" font-size="15.2" text-anchor="middle"><tspan class="i">Φ</tspan><tspan font-size="9" dy="1.9">2</tspan><tspan dy="-1.9">=35°</tspan></text><text x="329.1" y="768.1" font-size="15.2" text-anchor="middle"><tspan class="i">Φ</tspan><tspan font-size="9" dy="1.9">2</tspan><tspan dy="-1.9">=40°</tspan></text><text x="65.9" y="860.4" font-size="15.2" text-anchor="middle"><tspan class="i">Φ</tspan><tspan font-size="9" dy="1.9">2</tspan><tspan dy="-1.9">=45°</tspan></text><text x="199.4" y="860.4" font-size="15.2" text-anchor="middle"><tspan class="i">Φ</tspan><tspan font-size="9" dy="1.9">2</tspan><tspan dy="-1.9">=50°</tspan></text><text x="334.1" y="861.6" font-size="15.2" text-anchor="middle"><tspan class="i">Φ</tspan><tspan font-size="9" dy="1.9">2</tspan><tspan dy="-1.9">=55°</tspan></text><text x="63.3" y="954" font-size="15.2" text-anchor="middle"><tspan class="i">Φ</tspan><tspan font-size="9" dy="1.9">2</tspan><tspan dy="-1.9">=60°</tspan></text><text x="479.9" y="583.8" font-size="15.2" text-anchor="middle"><tspan class="i">Φ</tspan><tspan font-size="9" dy="1.9">2</tspan><tspan dy="-1.9">=0°</tspan></text><text x="611.1" y="583.8" font-size="15.2" text-anchor="middle"><tspan class="i">Φ</tspan><tspan font-size="9" dy="1.9">2</tspan><tspan dy="-1.9">=5°</tspan></text><text x="747.4" y="583.8" font-size="15.2" text-anchor="middle"><tspan class="i">Φ</tspan><tspan font-size="9" dy="1.9">2</tspan><tspan dy="-1.9">=10°</tspan></text><text x="482.9" y="676.2" font-size="15.2" text-anchor="middle"><tspan class="i">Φ</tspan><tspan font-size="9" dy="1.9">2</tspan><tspan dy="-1.9">=15°</tspan></text><text x="614.9" y="676.2" font-size="15.2" text-anchor="middle"><tspan class="i">Φ</tspan><tspan font-size="9" dy="1.9">2</tspan><tspan dy="-1.9">=20°</tspan></text><text x="747.4" y="676.2" font-size="15.2" text-anchor="middle"><tspan class="i">Φ</tspan><tspan font-size="9" dy="1.9">2</tspan><tspan dy="-1.9">=25°</tspan></text><text x="479.1" y="768.1" font-size="15.2" text-anchor="middle"><tspan class="i">Φ</tspan><tspan font-size="9" dy="1.9">2</tspan><tspan dy="-1.9">=30°</tspan></text><text x="614.4" y="768.1" font-size="15.2" text-anchor="middle"><tspan class="i">Φ</tspan><tspan font-size="9" dy="1.9">2</tspan><tspan dy="-1.9">=35°</tspan></text><text x="746.9" y="768.1" font-size="15.2" text-anchor="middle"><tspan class="i">Φ</tspan><tspan font-size="9" dy="1.9">2</tspan><tspan dy="-1.9">=40°</tspan></text><text x="482.9" y="860.4" font-size="15.2" text-anchor="middle"><tspan class="i">Φ</tspan><tspan font-size="9" dy="1.9">2</tspan><tspan dy="-1.9">=45°</tspan></text><text x="616.1" y="860.4" font-size="15.2" text-anchor="middle"><tspan class="i">Φ</tspan><tspan font-size="9" dy="1.9">2</tspan><tspan dy="-1.9">=50°</tspan></text><text x="751.9" y="861.6" font-size="15.2" text-anchor="middle"><tspan class="i">Φ</tspan><tspan font-size="9" dy="1.9">2</tspan><tspan dy="-1.9">=55°</tspan></text><text x="479.4" y="954" font-size="15.2" text-anchor="middle"><tspan class="i">Φ</tspan><tspan font-size="9" dy="1.9">2</tspan><tspan dy="-1.9">=60°</tspan></text><linearGradient id="cb1" x1="0" y1="0" x2="0" y2="1"><stop offset="0" stop-color="#2246ae"/><stop offset="0.1" stop-color="#2050ac"/><stop offset="0.17" stop-color="#1c6a98"/><stop offset="0.24" stop-color="#2a9e50"/><stop offset="0.3" stop-color="#44ac36"/><stop offset="0.45" stop-color="#70ba30"/><stop offset="0.58" stop-color="#a4ce32"/><stop offset="0.66" stop-color="#e4e836"/><stop offset="0.71" stop-color="#fbe432"/><stop offset="0.79" stop-color="#fbb024"/><stop offset="0.86" stop-color="#f4801e"/><stop offset="0.93" stop-color="#ec4a1c"/><stop offset="1" stop-color="#e22c1a"/></linearGradient><rect x="367" y="374.3" width="9.3" height="71.5" fill="url(#cb1)"/><linearGradient id="cb2" x1="0" y1="0" x2="0" y2="1"><stop offset="0" stop-color="#2246ae"/><stop offset="0.1" stop-color="#2050ac"/><stop offset="0.17" stop-color="#1c6a98"/><stop offset="0.24" stop-color="#2a9e50"/><stop offset="0.3" stop-color="#44ac36"/><stop offset="0.45" stop-color="#70ba30"/><stop offset="0.58" stop-color="#a4ce32"/><stop offset="0.66" stop-color="#e4e836"/><stop offset="0.71" stop-color="#fbe432"/><stop offset="0.79" stop-color="#fbb024"/><stop offset="0.86" stop-color="#f4801e"/><stop offset="0.93" stop-color="#ec4a1c"/><stop offset="1" stop-color="#e22c1a"/></linearGradient><rect x="783.7" y="374.7" width="10" height="72.1" fill="url(#cb2)"/><linearGradient id="cb3" x1="0" y1="0" x2="0" y2="1"><stop offset="0" stop-color="#4fa82c"/><stop offset="0.12" stop-color="#62a02c"/><stop offset="0.19" stop-color="#a8782c"/><stop offset="0.25" stop-color="#cc5030"/><stop offset="0.33" stop-color="#d23a58"/><stop offset="0.36" stop-color="#b02860"/><stop offset="0.38" stop-color="#d63474"/><stop offset="0.55" stop-color="#dc348c"/><stop offset="0.63" stop-color="#e23cc0"/><stop offset="0.7" stop-color="#e848ec"/><stop offset="0.78" stop-color="#c044f0"/><stop offset="0.86" stop-color="#7838ee"/><stop offset="0.93" stop-color="#3428e8"/><stop offset="1" stop-color="#1c24e0"/></linearGradient><rect x="371.8" y="866.2" width="9.5" height="71.2" fill="url(#cb3)"/><linearGradient id="cb4" x1="0" y1="0" x2="0" y2="1"><stop offset="0" stop-color="#4fa82c"/><stop offset="0.12" stop-color="#62a02c"/><stop offset="0.19" stop-color="#a8782c"/><stop offset="0.25" stop-color="#cc5030"/><stop offset="0.33" stop-color="#d23a58"/><stop offset="0.36" stop-color="#b02860"/><stop offset="0.38" stop-color="#d63474"/><stop offset="0.55" stop-color="#dc348c"/><stop offset="0.63" stop-color="#e23cc0"/><stop offset="0.7" stop-color="#e848ec"/><stop offset="0.78" stop-color="#c044f0"/><stop offset="0.86" stop-color="#7838ee"/><stop offset="0.93" stop-color="#3428e8"/><stop offset="1" stop-color="#1c24e0"/></linearGradient><rect x="789.3" y="862.8" width="8.9" height="68.6" fill="url(#cb4)"/><rect x="364" y="383" width="1.2" height="0.8" fill="#d8d8d8"/><rect x="364" y="393.4" width="1.2" height="0.8" fill="#d8d8d8"/><rect x="364" y="403.8" width="1.2" height="0.8" fill="#d8d8d8"/><rect x="364" y="414.2" width="1.2" height="0.8" fill="#d8d8d8"/><rect x="364" y="424.7" width="1.2" height="0.8" fill="#d8d8d8"/><rect x="364" y="435.1" width="1.2" height="0.8" fill="#d8d8d8"/><rect x="364" y="445.5" width="1.2" height="0.8" fill="#d8d8d8"/><rect x="780" y="380" width="1.2" height="0.8" fill="#d8d8d8"/><rect x="780" y="386" width="1.2" height="0.8" fill="#d8d8d8"/><rect x="780" y="392.1" width="1.2" height="0.8" fill="#d8d8d8"/><rect x="780" y="398.1" width="1.2" height="0.8" fill="#d8d8d8"/><rect x="780" y="404.2" width="1.2" height="0.8" fill="#d8d8d8"/><rect x="780" y="410.2" width="1.2" height="0.8" fill="#d8d8d8"/><rect x="780" y="416.3" width="1.2" height="0.8" fill="#d8d8d8"/><rect x="780" y="422.3" width="1.2" height="0.8" fill="#d8d8d8"/><rect x="780" y="428.4" width="1.2" height="0.8" fill="#d8d8d8"/><rect x="780" y="434.4" width="1.2" height="0.8" fill="#d8d8d8"/><rect x="780" y="440.5" width="1.2" height="0.8" fill="#d8d8d8"/><rect x="780" y="446.5" width="1.2" height="0.8" fill="#d8d8d8"/><rect x="369" y="878" width="1.2" height="0.8" fill="#d8d8d8"/><rect x="369" y="889.8" width="1.2" height="0.8" fill="#d8d8d8"/><rect x="369" y="901.6" width="1.2" height="0.8" fill="#d8d8d8"/><rect x="369" y="913.4" width="1.2" height="0.8" fill="#d8d8d8"/><rect x="369" y="925.2" width="1.2" height="0.8" fill="#d8d8d8"/><rect x="369" y="937" width="1.2" height="0.8" fill="#d8d8d8"/><rect x="786.5" y="900" width="1.2" height="0.8" fill="#d8d8d8"/><rect x="786.5" y="915.5" width="1.2" height="0.8" fill="#d8d8d8"/><rect x="786.5" y="931" width="1.2" height="0.8" fill="#d8d8d8"/><rect x="357" y="445.8" width="20" height="0.7" fill="#ddd"/><rect x="777" y="446.8" width="17" height="0.7" fill="#ddd"/><rect x="367" y="937.4" width="15" height="0.7" fill="#ddd"/><rect x="780" y="931.6" width="10" height="0.7" fill="#ddd"/><text x="294.4" y="445" font-size="15" textLength="59.5" lengthAdjust="spacingAndGlyphs">max=7.21</text><text x="706" y="444.6" font-size="15" textLength="59.5" lengthAdjust="spacingAndGlyphs">max=11.7</text><text x="293.8" y="933" font-size="15" textLength="59.5" lengthAdjust="spacingAndGlyphs">max=5.65</text><text x="715.2" y="932.4" font-size="15" textLength="59.5" lengthAdjust="spacingAndGlyphs">max=3.39</text><g fill="#cdcdcd"><rect x="138.5" y="375" width="0.8" height="74.2"/><rect x="155" y="379" width="92.8" height="0.8"/><rect x="155" y="381.2" width="92.8" height="0.8"/><rect x="155" y="383.4" width="92.8" height="0.8"/><rect x="238.5" y="376" width="8.5" height="0.9" fill="#a8a8a8"/><rect x="149.4" y="378" width="0.9" height="5" fill="#ccc"/><rect x="139" y="448.4" width="8" height="0.9" fill="#a8a8a8"/><rect x="553.9" y="375" width="0.8" height="74.6"/><rect x="570.8" y="381" width="91" height="0.8"/><rect x="570.8" y="383.1" width="91" height="0.8"/><rect x="570.8" y="385.2" width="91" height="0.8"/><rect x="570.8" y="387.3" width="91" height="0.8"/><rect x="653.5" y="376.2" width="8.5" height="0.9" fill="#a8a8a8"/><rect x="564.7" y="379" width="0.9" height="9" fill="#ccc"/><rect x="555" y="448.8" width="8" height="0.9" fill="#a8a8a8"/><rect x="142.5" y="864" width="0.8" height="74.6"/><rect x="143" y="863.8" width="108" height="0.6" fill="#e2e2e2"/><rect x="159.5" y="870.2" width="91.5" height="0.8" fill="#d0d0d0"/><rect x="242" y="865.6" width="9" height="0.9" fill="#a8a8a8"/><rect x="153.2" y="868" width="0.9" height="3.2" fill="#a8a8a8"/><rect x="143" y="937.8" width="8" height="0.9" fill="#a8a8a8"/><rect x="557" y="864" width="109.4" height="0.7" fill="#d4d4d4"/><rect x="557.2" y="864" width="0.6" height="74" fill="#efefef"/><rect x="657.5" y="865.6" width="9" height="0.9" fill="#c4c4c4"/><rect x="558" y="937.6" width="8" height="0.9" fill="#c4c4c4"/><rect x="568.5" y="868.3" width="1" height="1" fill="#ccc"/></g><linearGradient id="gb" x1="0" y1="0" x2="0" y2="1"><stop offset="0" stop-color="#e8407a"/><stop offset="0.5" stop-color="#d8304e"/><stop offset="1" stop-color="#c84a38"/></linearGradient><rect x="3.4" y="833" width="2" height="13.8" fill="url(#gb)"/><linearGradient id="gv" x1="0" y1="0" x2="0" y2="1"><stop offset="0" stop-color="#c9a0e8"/><stop offset="0.6" stop-color="#b48ae8"/><stop offset="1" stop-color="#5a5af0"/></linearGradient><rect x="3.4" y="864.5" width="0.9" height="68" fill="url(#gv)"/><rect x="393.3" y="832.8" width="28" height="0.7" fill="#c8c8c8"/><text x="168.5" y="479.2" font-size="13.6">(a)</text><text x="192.5" y="479.2" font-size="13.6">1</text><text class="cj" x="199.2" y="479.2" font-size="14.9">个循环</text><text x="587" y="479.2" font-size="13.6">(b)</text><text x="611" y="479.2" font-size="13.6">2</text><text class="cj" x="617.7" y="479.2" font-size="14.9">个循环</text><text x="171.8" y="969" font-size="13.6">(c)</text><text x="195.8" y="969" font-size="13.6">3</text><text class="cj" x="202.5" y="969" font-size="14.9">个循环</text><text x="588.5" y="968.5" font-size="13.6">(d)</text><text x="612.5" y="968.5" font-size="13.6">4</text><text class="cj" x="619.2" y="968.5" font-size="14.9">个循环</text><text class="cj" x="195.9" y="1006.4" font-size="22.6">图</text><text x="225" y="1006.4" font-size="20" textLength="21.3" lengthAdjust="spacing">16</text><text x="271.3" y="1006.4" font-size="20" textLength="38" lengthAdjust="spacing">TC4</text><text class="cj" x="310.7" y="1006.4" font-size="22.6" letter-spacing="2.8">合金在多个循环中</text><text class="cj" x="512.1" y="1006.4" font-size="22.6">的</text><text x="535.8" y="1006.4" font-size="20" textLength="39.6" lengthAdjust="spacingAndGlyphs">ODF</text><text class="cj" x="581.9" y="1006.4" font-size="22.6">图</text><text x="91" y="1043" font-size="19.5" textLength="58" lengthAdjust="spacing">Fig.16</text><text x="176.3" y="1043" font-size="19.5" textLength="532.5" lengthAdjust="spacing">ODF image of TC4 alloy after different cycle deformation</text>
</svg></body></html>
